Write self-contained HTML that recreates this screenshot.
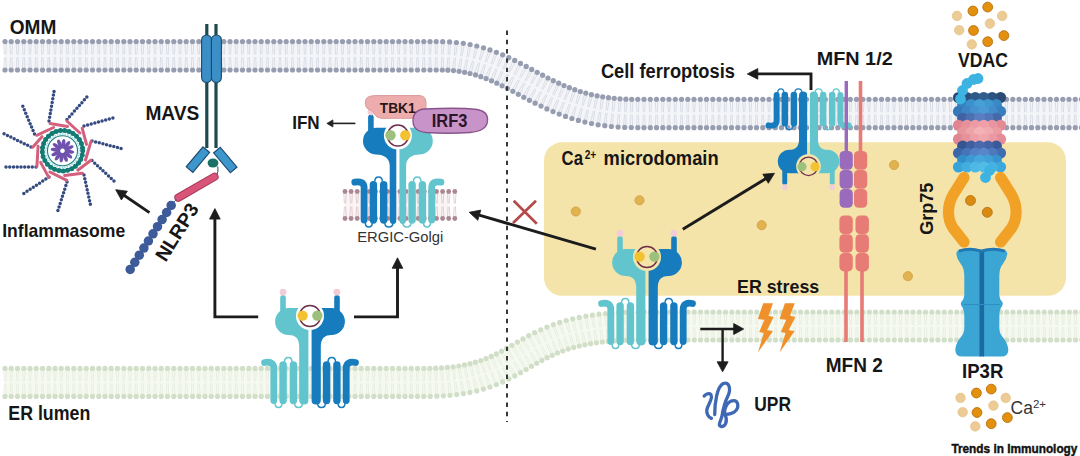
<!DOCTYPE html><html><head><meta charset="utf-8"><style>html,body{margin:0;padding:0;background:#fff;width:1080px;height:456px;overflow:hidden}svg text{font-family:"Liberation Sans",sans-serif}</style></head><body>
<svg width="1080" height="456" viewBox="0 0 1080 456" style="display:block">
<rect width="1080" height="456" fill="#ffffff"/>
<rect x="544" y="142.3" width="522" height="153.5" rx="18" fill="#f5e4aa"/>
<path d="M5.0,55.8 L26.8,55.8 L48.5,55.8 L70.2,55.8 L92.0,55.8 L113.7,55.8 L135.5,55.8 L157.2,55.8 L179.0,55.8 L200.7,55.8 L222.5,55.8 L244.2,55.8 L266.0,55.8 L287.8,55.8 L309.5,55.8 L331.2,55.8 L353.0,55.8 L374.7,55.8 L396.5,55.8 L418.2,55.8 L440.0,55.8 L441.2,55.8 L442.3,55.8 L443.5,55.8 L444.6,55.9 L445.7,55.9 L446.9,56.0 L448.0,56.0 L449.1,56.1 L450.2,56.1 L451.3,56.2 L452.4,56.3 L453.4,56.4 L454.5,56.5 L455.6,56.6 L456.6,56.7 L457.7,56.8 L458.7,57.0 L459.7,57.1 L460.8,57.3 L461.8,57.4 L462.8,57.6 L463.8,57.7 L464.8,57.9 L465.8,58.1 L466.8,58.3 L467.8,58.5 L468.7,58.7 L469.7,58.9 L470.7,59.1 L471.6,59.3 L472.6,59.5 L473.5,59.8 L474.5,60.0 L475.4,60.2 L476.3,60.5 L477.2,60.7 L478.2,61.0 L479.1,61.3 L480.0,61.5 L480.9,61.8 L481.8,62.1 L482.7,62.4 L483.6,62.7 L484.4,63.0 L485.3,63.3 L486.2,63.6 L487.1,63.9 L487.9,64.2 L488.8,64.5 L489.7,64.8 L490.5,65.1 L491.4,65.5 L492.2,65.8 L493.1,66.2 L493.9,66.5 L494.8,66.8 L495.6,67.2 L496.4,67.5 L497.3,67.9 L498.1,68.3 L498.9,68.6 L499.8,69.0 L500.6,69.4 L501.4,69.8 L502.2,70.1 L503.0,70.5 L503.8,70.9 L504.7,71.3 L505.5,71.7 L506.3,72.1 L507.1,72.5 L507.9,72.9 L508.7,73.3 L509.5,73.7 L510.3,74.1 L511.1,74.5 L511.9,74.9 L512.7,75.3 L513.5,75.7 L514.3,76.1 L515.1,76.5 L515.9,77.0 L516.7,77.4 L517.5,77.8 L518.2,78.2 L519.0,78.6 L519.8,79.1 L520.6,79.5 L521.4,79.9 L522.2,80.3 L523.0,80.8 L523.8,81.2 L524.6,81.6 L525.4,82.1 L526.2,82.5 L527.0,82.9 L527.8,83.4 L528.6,83.8 L529.4,84.2 L530.2,84.7 L531.0,85.1 L531.8,85.5 L532.6,86.0 L533.4,86.4 L534.3,86.8 L535.1,87.3 L535.9,87.7 L536.7,88.1 L537.5,88.5 L538.3,89.0 L539.2,89.4 L540.0,89.8 L540.8,90.3 L541.7,90.7 L542.5,91.1 L543.3,91.5 L544.2,91.9 L545.0,92.4 L545.9,92.8 L546.7,93.2 L547.6,93.6 L548.4,94.0 L549.3,94.4 L550.2,94.8 L551.0,95.3 L551.9,95.7 L552.8,96.1 L553.7,96.5 L554.6,96.9 L555.5,97.3 L556.4,97.6 L557.3,98.0 L558.2,98.4 L559.1,98.8 L560.0,99.2 L560.9,99.6 L561.8,99.9 L562.8,100.3 L563.7,100.7 L564.7,101.0 L565.6,101.4 L566.6,101.8 L567.5,102.1 L568.5,102.5 L569.5,102.8 L570.4,103.2 L571.4,103.5 L572.4,103.8 L573.4,104.2 L574.4,104.5 L575.4,104.8 L576.4,105.1 L577.5,105.5 L578.5,105.8 L579.5,106.1 L580.6,106.4 L581.6,106.7 L582.7,106.9 L583.7,107.2 L584.8,107.5 L585.9,107.8 L587.0,108.1 L588.1,108.3 L589.2,108.6 L590.3,108.8 L591.4,109.1 L592.5,109.3 L593.7,109.6 L594.8,109.8 L596.0,110.0 L597.1,110.2 L598.3,110.4 L599.5,110.6 L600.7,110.8 L601.9,111.0 L603.1,111.2 L604.3,111.4 L605.5,111.6 L606.8,111.7 L608.0,111.9 L609.3,112.0 L610.5,112.2 L611.8,112.3 L613.1,112.5 L614.4,112.6 L615.7,112.7 L617.0,112.8 L618.3,112.9 L619.7,113.0 L621.0,113.1 L622.4,113.2 L623.7,113.2 L625.1,113.3 L626.5,113.3 L627.9,113.4 L629.3,113.4 L630.7,113.5 L632.2,113.5 L633.6,113.5 L635.6,113.5 L647.0,113.5 L658.3,113.5 L669.7,113.5 L681.1,113.5 L692.5,113.5 L703.9,113.5 L715.3,113.5 L726.7,113.5 L738.1,113.5 L749.5,113.5 L760.9,113.5 L772.2,113.5 L783.6,113.5 L795.0,113.5 L806.4,113.5 L817.8,113.5 L829.2,113.5 L840.6,113.5 L852.0,113.5 L863.4,113.5 L874.7,113.5 L886.1,113.5 L897.5,113.5 L908.9,113.5 L920.3,113.5 L931.7,113.5 L943.1,113.5 L954.5,113.5 L965.9,113.5 L977.2,113.5 L988.6,113.5 L1000.0,113.5 L1011.4,113.5 L1022.8,113.5 L1034.2,113.5 L1045.6,113.5 L1057.0,113.5 L1068.4,113.5 L1079.7,113.5" stroke="#f4f5f8" stroke-width="28.3" fill="none"/>
<path d="M3.7 41.6L4.3 54.6M6.3 41.6L5.7 54.6M3.7 70.0L4.3 57.0M6.3 70.0L5.7 57.0M9.9 41.6L10.6 54.6M12.6 41.6L11.9 54.6M9.9 70.0L10.6 57.0M12.6 70.0L11.9 57.0M16.2 41.6L16.9 54.6M18.8 41.6L18.1 54.6M16.2 70.0L16.9 57.0M18.8 70.0L18.1 57.0M22.4 41.6L23.1 54.6M25.1 41.6L24.4 54.6M22.4 70.0L23.1 57.0M25.1 70.0L24.4 57.0M28.7 41.6L29.4 54.6M31.3 41.6L30.6 54.6M28.7 70.0L29.4 57.0M31.3 70.0L30.6 57.0M35.0 41.6L35.6 54.6M37.5 41.6L36.9 54.6M35.0 70.0L35.6 57.0M37.5 70.0L36.9 57.0M41.2 41.6L41.9 54.6M43.8 41.6L43.1 54.6M41.2 70.0L41.9 57.0M43.8 70.0L43.1 57.0M47.5 41.6L48.1 54.6M50.0 41.6L49.4 54.6M47.5 70.0L48.1 57.0M50.0 70.0L49.4 57.0M53.7 41.6L54.4 54.6M56.3 41.6L55.6 54.6M53.7 70.0L54.4 57.0M56.3 70.0L55.6 57.0M60.0 41.6L60.6 54.6M62.5 41.6L61.9 54.6M60.0 70.0L60.6 57.0M62.5 70.0L61.9 57.0M66.2 41.6L66.8 54.6M68.8 41.6L68.2 54.6M66.2 70.0L66.8 57.0M68.8 70.0L68.2 57.0M72.5 41.6L73.1 54.6M75.0 41.6L74.4 54.6M72.5 70.0L73.1 57.0M75.0 70.0L74.4 57.0M78.7 41.6L79.3 54.6M81.3 41.6L80.7 54.6M78.7 70.0L79.3 57.0M81.3 70.0L80.7 57.0M85.0 41.6L85.6 54.6M87.5 41.6L86.9 54.6M85.0 70.0L85.6 57.0M87.5 70.0L86.9 57.0M91.2 41.6L91.8 54.6M93.8 41.6L93.2 54.6M91.2 70.0L91.8 57.0M93.8 70.0L93.2 57.0M97.5 41.6L98.1 54.6M100.0 41.6L99.4 54.6M97.5 70.0L98.1 57.0M100.0 70.0L99.4 57.0M103.7 41.6L104.3 54.6M106.3 41.6L105.7 54.6M103.7 70.0L104.3 57.0M106.3 70.0L105.7 57.0M110.0 41.6L110.6 54.6M112.5 41.6L111.9 54.6M110.0 70.0L110.6 57.0M112.5 70.0L111.9 57.0M116.2 41.6L116.8 54.6M118.8 41.6L118.2 54.6M116.2 70.0L116.8 57.0M118.8 70.0L118.2 57.0M122.5 41.6L123.1 54.6M125.0 41.6L124.4 54.6M122.5 70.0L123.1 57.0M125.0 70.0L124.4 57.0M128.7 41.6L129.3 54.6M131.3 41.6L130.7 54.6M128.7 70.0L129.3 57.0M131.3 70.0L130.7 57.0M134.9 41.6L135.6 54.6M137.6 41.6L136.9 54.6M134.9 70.0L135.6 57.0M137.6 70.0L136.9 57.0M141.2 41.6L141.8 54.6M143.8 41.6L143.2 54.6M141.2 70.0L141.8 57.0M143.8 70.0L143.2 57.0M147.4 41.6L148.1 54.6M150.1 41.6L149.4 54.6M147.4 70.0L148.1 57.0M150.1 70.0L149.4 57.0M153.7 41.6L154.3 54.6M156.3 41.6L155.7 54.6M153.7 70.0L154.3 57.0M156.3 70.0L155.7 57.0M159.9 41.6L160.6 54.6M162.6 41.6L161.9 54.6M159.9 70.0L160.6 57.0M162.6 70.0L161.9 57.0M166.2 41.6L166.8 54.6M168.8 41.6L168.2 54.6M166.2 70.0L166.8 57.0M168.8 70.0L168.2 57.0M172.4 41.6L173.1 54.6M175.1 41.6L174.4 54.6M172.4 70.0L173.1 57.0M175.1 70.0L174.4 57.0M178.7 41.6L179.3 54.6M181.3 41.6L180.7 54.6M178.7 70.0L179.3 57.0M181.3 70.0L180.7 57.0M184.9 41.6L185.6 54.6M187.6 41.6L186.9 54.6M184.9 70.0L185.6 57.0M187.6 70.0L186.9 57.0M191.2 41.6L191.8 54.6M193.8 41.6L193.2 54.6M191.2 70.0L191.8 57.0M193.8 70.0L193.2 57.0M197.4 41.6L198.1 54.6M200.1 41.6L199.4 54.6M197.4 70.0L198.1 57.0M200.1 70.0L199.4 57.0M203.7 41.6L204.3 54.6M206.3 41.6L205.7 54.6M203.7 70.0L204.3 57.0M206.3 70.0L205.7 57.0M209.9 41.6L210.6 54.6M212.6 41.6L211.9 54.6M209.9 70.0L210.6 57.0M212.6 70.0L211.9 57.0M216.2 41.6L216.8 54.6M218.8 41.6L218.2 54.6M216.2 70.0L216.8 57.0M218.8 70.0L218.2 57.0M222.4 41.6L223.1 54.6M225.1 41.6L224.4 54.6M222.4 70.0L223.1 57.0M225.1 70.0L224.4 57.0M228.7 41.6L229.3 54.6M231.3 41.6L230.7 54.6M228.7 70.0L229.3 57.0M231.3 70.0L230.7 57.0M234.9 41.6L235.6 54.6M237.6 41.6L236.9 54.6M234.9 70.0L235.6 57.0M237.6 70.0L236.9 57.0M241.2 41.6L241.8 54.6M243.8 41.6L243.2 54.6M241.2 70.0L241.8 57.0M243.8 70.0L243.2 57.0M247.4 41.6L248.1 54.6M250.1 41.6L249.4 54.6M247.4 70.0L248.1 57.0M250.1 70.0L249.4 57.0M253.7 41.6L254.3 54.6M256.3 41.6L255.7 54.6M253.7 70.0L254.3 57.0M256.3 70.0L255.7 57.0M259.9 41.6L260.6 54.6M262.6 41.6L261.9 54.6M259.9 70.0L260.6 57.0M262.6 70.0L261.9 57.0M266.2 41.6L266.9 54.6M268.8 41.6L268.1 54.6M266.2 70.0L266.9 57.0M268.8 70.0L268.1 57.0M272.4 41.6L273.1 54.6M275.1 41.6L274.4 54.6M272.4 70.0L273.1 57.0M275.1 70.0L274.4 57.0M278.7 41.6L279.4 54.6M281.3 41.6L280.6 54.6M278.7 70.0L279.4 57.0M281.3 70.0L280.6 57.0M284.9 41.6L285.6 54.6M287.6 41.6L286.9 54.6M284.9 70.0L285.6 57.0M287.6 70.0L286.9 57.0M291.2 41.6L291.9 54.6M293.8 41.6L293.1 54.6M291.2 70.0L291.9 57.0M293.8 70.0L293.1 57.0M297.4 41.6L298.1 54.6M300.1 41.6L299.4 54.6M297.4 70.0L298.1 57.0M300.1 70.0L299.4 57.0M303.7 41.6L304.4 54.6M306.3 41.6L305.6 54.6M303.7 70.0L304.4 57.0M306.3 70.0L305.6 57.0M309.9 41.6L310.6 54.6M312.6 41.6L311.9 54.6M309.9 70.0L310.6 57.0M312.6 70.0L311.9 57.0M316.2 41.6L316.9 54.6M318.8 41.6L318.1 54.6M316.2 70.0L316.9 57.0M318.8 70.0L318.1 57.0M322.4 41.6L323.1 54.6M325.1 41.6L324.4 54.6M322.4 70.0L323.1 57.0M325.1 70.0L324.4 57.0M328.7 41.6L329.4 54.6M331.3 41.6L330.6 54.6M328.7 70.0L329.4 57.0M331.3 70.0L330.6 57.0M334.9 41.6L335.6 54.6M337.6 41.6L336.9 54.6M334.9 70.0L335.6 57.0M337.6 70.0L336.9 57.0M341.2 41.6L341.9 54.6M343.8 41.6L343.1 54.6M341.2 70.0L341.9 57.0M343.8 70.0L343.1 57.0M347.4 41.6L348.1 54.6M350.1 41.6L349.4 54.6M347.4 70.0L348.1 57.0M350.1 70.0L349.4 57.0M353.7 41.6L354.4 54.6M356.3 41.6L355.6 54.6M353.7 70.0L354.4 57.0M356.3 70.0L355.6 57.0M359.9 41.6L360.6 54.6M362.6 41.6L361.9 54.6M359.9 70.0L360.6 57.0M362.6 70.0L361.9 57.0M366.2 41.6L366.9 54.6M368.8 41.6L368.1 54.6M366.2 70.0L366.9 57.0M368.8 70.0L368.1 57.0M372.4 41.6L373.1 54.6M375.1 41.6L374.4 54.6M372.4 70.0L373.1 57.0M375.1 70.0L374.4 57.0M378.7 41.6L379.4 54.6M381.3 41.6L380.6 54.6M378.7 70.0L379.4 57.0M381.3 70.0L380.6 57.0M384.9 41.6L385.6 54.6M387.6 41.6L386.9 54.6M384.9 70.0L385.6 57.0M387.6 70.0L386.9 57.0M391.2 41.6L391.9 54.6M393.8 41.6L393.1 54.6M391.2 70.0L391.9 57.0M393.8 70.0L393.1 57.0M397.4 41.6L398.1 54.6M400.1 41.6L399.4 54.6M397.4 70.0L398.1 57.0M400.1 70.0L399.4 57.0M403.7 41.6L404.4 54.6M406.3 41.6L405.6 54.6M403.7 70.0L404.4 57.0M406.3 70.0L405.6 57.0M409.9 41.6L410.6 54.6M412.6 41.6L411.9 54.6M409.9 70.0L410.6 57.0M412.6 70.0L411.9 57.0M416.2 41.6L416.9 54.6M418.8 41.6L418.1 54.6M416.2 70.0L416.9 57.0M418.8 70.0L418.1 57.0M422.4 41.6L423.1 54.6M425.1 41.6L424.4 54.6M422.4 70.0L423.1 57.0M425.1 70.0L424.4 57.0M428.7 41.6L429.4 54.6M431.3 41.6L430.6 54.6M428.7 70.0L429.4 57.0M431.3 70.0L430.6 57.0M434.9 41.6L435.6 54.6M437.6 41.6L436.9 54.6M434.9 70.0L435.6 57.0M437.6 70.0L436.9 57.0M441.4 41.7L441.9 54.7M444.0 41.7L443.2 54.7M441.0 69.9L441.8 57.0M443.6 70.0L443.1 57.0M448.3 41.8L448.2 54.9M450.9 42.0L449.5 54.9M446.6 70.1L448.0 57.2M449.2 70.3L449.3 57.2M455.1 42.3L454.4 55.3M457.7 42.6L455.7 55.5M452.2 70.5L454.2 57.6M454.8 70.8L455.5 57.8M462.0 43.1L460.7 56.1M464.5 43.5L462.0 56.3M457.8 71.1L460.4 58.4M460.4 71.5L461.6 58.6M468.8 44.3L466.9 57.1M471.3 44.8L468.2 57.4M463.3 72.0L466.5 59.4M465.9 72.5L467.7 59.6M475.6 45.7L473.1 58.5M478.1 46.3L474.3 58.8M468.8 73.2L472.5 60.7M471.3 73.8L473.8 61.0M482.2 47.4L479.2 60.1M484.7 48.2L480.4 60.5M474.2 74.6L478.5 62.3M476.7 75.3L479.8 62.7M488.8 49.5L485.2 62.0M491.3 50.3L486.4 62.4M479.6 76.2L484.4 64.2M482.0 77.1L485.7 64.6M495.2 51.8L491.1 64.1M497.6 52.7L492.3 64.6M484.9 78.1L490.3 66.3M487.4 79.1L491.5 66.7M501.5 54.3L496.9 66.5M503.9 55.3L498.1 67.0M490.3 80.3L496.0 68.6M492.6 81.3L497.2 69.1M507.6 57.0L502.7 69.1M509.9 58.1L503.8 69.6M495.6 82.6L501.7 71.2M497.9 83.7L502.9 71.7M513.5 59.9L508.3 71.8M515.9 61.0L509.5 72.4M500.9 85.2L507.3 73.8M503.2 86.4L508.5 74.4M519.3 62.8L513.9 74.6M521.6 64.0L515.1 75.2M506.3 87.9L512.8 76.7M508.6 89.1L514.0 77.3M525.0 65.8L519.4 77.6M527.3 67.0L520.6 78.2M511.7 90.7L518.4 79.6M513.9 92.0L519.5 80.2M530.6 68.8L525.0 80.5M532.9 70.0L526.1 81.1M517.1 93.7L523.9 82.5M519.4 94.9L525.0 83.2M536.0 71.7L530.5 83.5M538.3 73.0L531.6 84.1M522.6 96.7L529.4 85.5M524.9 97.9L530.5 86.1M541.4 74.6L536.0 86.4M543.7 75.8L537.1 87.0M528.3 99.7L534.9 88.5M530.6 100.9L536.0 89.1M546.8 77.4L541.5 89.3M549.1 78.6L542.6 89.9M534.0 102.6L540.4 91.4M536.3 103.8L541.6 91.9M552.1 80.1L547.1 92.1M554.5 81.2L548.2 92.7M539.8 105.6L546.1 94.2M542.1 106.7L547.2 94.7M557.5 82.6L552.7 94.7M559.8 83.7L553.9 95.3M545.8 108.4L551.7 96.8M548.1 109.5L552.9 97.4M562.8 85.0L558.4 97.3M565.2 86.0L559.6 97.8M551.8 111.1L557.5 99.4M554.2 112.1L558.7 99.9M568.2 87.3L564.1 99.6M570.6 88.2L565.3 100.1M558.0 113.6L563.3 101.8M560.4 114.6L564.5 102.2M573.6 89.3L569.9 101.8M576.1 90.1L571.2 102.2M564.3 116.0L569.2 103.9M566.7 116.9L570.4 104.4M579.1 91.1L575.8 103.7M581.6 91.9L577.1 104.1M570.7 118.2L575.2 105.9M573.1 118.9L576.4 106.3M584.6 92.8L581.8 105.5M587.1 93.5L583.0 105.9M577.1 120.1L581.2 107.7M579.6 120.8L582.4 108.1M590.2 94.3L587.8 107.1M592.7 94.9L589.1 107.4M583.6 121.8L587.3 109.3M586.2 122.4L588.5 109.6M595.8 95.5L593.9 108.4M598.3 96.1L595.1 108.7M590.2 123.3L593.4 110.7M592.8 123.8L594.7 110.9M601.4 96.6L600.0 109.6M604.0 97.0L601.2 109.8M596.8 124.5L599.6 111.8M599.4 125.0L600.9 112.0M607.2 97.5L606.1 110.5M609.7 97.9L607.4 110.7M603.5 125.6L605.8 112.8M606.0 125.9L607.1 112.9M612.9 98.2L612.3 111.2M615.5 98.5L613.6 111.4M610.1 126.4L612.0 113.5M612.7 126.6L613.3 113.6M618.7 98.8L618.5 111.8M621.3 98.9L619.8 111.9M616.8 127.0L618.3 114.1M619.3 127.2L619.6 114.1M624.6 99.1L624.7 112.1M627.2 99.2L626.0 112.2M623.4 127.4L624.6 114.4M626.0 127.5L625.9 114.5M630.4 99.3L630.9 112.3M633.0 99.3L632.2 112.3M630.0 127.6L630.9 114.6M632.6 127.6L632.2 114.6M636.5 99.3L637.1 112.3M639.1 99.3L638.4 112.3M636.5 127.7L637.1 114.7M639.1 127.7L638.4 114.7M642.7 99.3L643.4 112.3M645.3 99.3L644.7 112.3M642.7 127.7L643.4 114.7M645.3 127.7L644.7 114.7M649.0 99.3L649.6 112.3M651.6 99.3L650.9 112.3M649.0 127.7L649.6 114.7M651.6 127.7L650.9 114.7M655.2 99.3L655.9 112.3M657.8 99.3L657.2 112.3M655.2 127.7L655.9 114.7M657.8 127.7L657.2 114.7M661.5 99.3L662.1 112.3M664.1 99.3L663.4 112.3M661.5 127.7L662.1 114.7M664.1 127.7L663.4 114.7M667.7 99.3L668.4 112.3M670.3 99.3L669.7 112.3M667.7 127.7L668.4 114.7M670.3 127.7L669.7 114.7M674.0 99.3L674.6 112.3M676.6 99.3L675.9 112.3M674.0 127.7L674.6 114.7M676.6 127.7L675.9 114.7M680.2 99.3L680.9 112.3M682.8 99.3L682.2 112.3M680.2 127.7L680.9 114.7M682.8 127.7L682.2 114.7M686.5 99.3L687.1 112.3M689.1 99.3L688.4 112.3M686.5 127.7L687.1 114.7M689.1 127.7L688.4 114.7M692.7 99.3L693.4 112.3M695.3 99.3L694.7 112.3M692.7 127.7L693.4 114.7M695.3 127.7L694.7 114.7M699.0 99.3L699.6 112.3M701.6 99.3L700.9 112.3M699.0 127.7L699.6 114.7M701.6 127.7L700.9 114.7M705.2 99.3L705.9 112.3M707.8 99.3L707.2 112.3M705.2 127.7L705.9 114.7M707.8 127.7L707.2 114.7M711.5 99.3L712.1 112.3M714.1 99.3L713.4 112.3M711.5 127.7L712.1 114.7M714.1 127.7L713.4 114.7M717.7 99.3L718.4 112.3M720.3 99.3L719.7 112.3M717.7 127.7L718.4 114.7M720.3 127.7L719.7 114.7M724.0 99.3L724.6 112.3M726.6 99.3L725.9 112.3M724.0 127.7L724.6 114.7M726.6 127.7L725.9 114.7M730.2 99.3L730.9 112.3M732.8 99.3L732.2 112.3M730.2 127.7L730.9 114.7M732.8 127.7L732.2 114.7M736.5 99.3L737.1 112.3M739.1 99.3L738.4 112.3M736.5 127.7L737.1 114.7M739.1 127.7L738.4 114.7M742.7 99.3L743.4 112.3M745.3 99.3L744.7 112.3M742.7 127.7L743.4 114.7M745.3 127.7L744.7 114.7M749.0 99.3L749.6 112.3M751.6 99.3L750.9 112.3M749.0 127.7L749.6 114.7M751.6 127.7L750.9 114.7M755.2 99.3L755.9 112.3M757.8 99.3L757.2 112.3M755.2 127.7L755.9 114.7M757.8 127.7L757.2 114.7M761.5 99.3L762.1 112.3M764.1 99.3L763.4 112.3M761.5 127.7L762.1 114.7M764.1 127.7L763.4 114.7M767.7 99.3L768.4 112.3M770.3 99.3L769.7 112.3M767.7 127.7L768.4 114.7M770.3 127.7L769.7 114.7M774.0 99.3L774.6 112.3M776.6 99.3L775.9 112.3M774.0 127.7L774.6 114.7M776.6 127.7L775.9 114.7M780.2 99.3L780.9 112.3M782.8 99.3L782.2 112.3M780.2 127.7L780.9 114.7M782.8 127.7L782.2 114.7M786.5 99.3L787.1 112.3M789.1 99.3L788.4 112.3M786.5 127.7L787.1 114.7M789.1 127.7L788.4 114.7M792.7 99.3L793.4 112.3M795.3 99.3L794.7 112.3M792.7 127.7L793.4 114.7M795.3 127.7L794.7 114.7M799.0 99.3L799.6 112.3M801.6 99.3L800.9 112.3M799.0 127.7L799.6 114.7M801.6 127.7L800.9 114.7M805.2 99.3L805.9 112.3M807.8 99.3L807.2 112.3M805.2 127.7L805.9 114.7M807.8 127.7L807.2 114.7M811.5 99.3L812.1 112.3M814.1 99.3L813.4 112.3M811.5 127.7L812.1 114.7M814.1 127.7L813.4 114.7M817.7 99.3L818.4 112.3M820.3 99.3L819.7 112.3M817.7 127.7L818.4 114.7M820.3 127.7L819.7 114.7M824.0 99.3L824.6 112.3M826.6 99.3L825.9 112.3M824.0 127.7L824.6 114.7M826.6 127.7L825.9 114.7M830.2 99.3L830.9 112.3M832.8 99.3L832.2 112.3M830.2 127.7L830.9 114.7M832.8 127.7L832.2 114.7M836.5 99.3L837.1 112.3M839.1 99.3L838.4 112.3M836.5 127.7L837.1 114.7M839.1 127.7L838.4 114.7M842.7 99.3L843.4 112.3M845.3 99.3L844.7 112.3M842.7 127.7L843.4 114.7M845.3 127.7L844.7 114.7M849.0 99.3L849.6 112.3M851.6 99.3L850.9 112.3M849.0 127.7L849.6 114.7M851.6 127.7L850.9 114.7M855.2 99.3L855.9 112.3M857.8 99.3L857.2 112.3M855.2 127.7L855.9 114.7M857.8 127.7L857.2 114.7M861.5 99.3L862.1 112.3M864.1 99.3L863.4 112.3M861.5 127.7L862.1 114.7M864.1 127.7L863.4 114.7M867.7 99.3L868.4 112.3M870.3 99.3L869.7 112.3M867.7 127.7L868.4 114.7M870.3 127.7L869.7 114.7M874.0 99.3L874.6 112.3M876.6 99.3L875.9 112.3M874.0 127.7L874.6 114.7M876.6 127.7L875.9 114.7M880.2 99.3L880.9 112.3M882.8 99.3L882.2 112.3M880.2 127.7L880.9 114.7M882.8 127.7L882.2 114.7M886.5 99.3L887.1 112.3M889.1 99.3L888.4 112.3M886.5 127.7L887.1 114.7M889.1 127.7L888.4 114.7M892.7 99.3L893.4 112.3M895.3 99.3L894.7 112.3M892.7 127.7L893.4 114.7M895.3 127.7L894.7 114.7M899.0 99.3L899.6 112.3M901.6 99.3L900.9 112.3M899.0 127.7L899.6 114.7M901.6 127.7L900.9 114.7M905.2 99.3L905.9 112.3M907.8 99.3L907.2 112.3M905.2 127.7L905.9 114.7M907.8 127.7L907.2 114.7M911.5 99.3L912.1 112.3M914.1 99.3L913.4 112.3M911.5 127.7L912.1 114.7M914.1 127.7L913.4 114.7M917.7 99.3L918.4 112.3M920.3 99.3L919.7 112.3M917.7 127.7L918.4 114.7M920.3 127.7L919.7 114.7M924.0 99.3L924.6 112.3M926.6 99.3L925.9 112.3M924.0 127.7L924.6 114.7M926.6 127.7L925.9 114.7M930.2 99.3L930.9 112.3M932.8 99.3L932.2 112.3M930.2 127.7L930.9 114.7M932.8 127.7L932.2 114.7M936.5 99.3L937.1 112.3M939.1 99.3L938.4 112.3M936.5 127.7L937.1 114.7M939.1 127.7L938.4 114.7M942.7 99.3L943.4 112.3M945.3 99.3L944.7 112.3M942.7 127.7L943.4 114.7M945.3 127.7L944.7 114.7M949.0 99.3L949.6 112.3M951.6 99.3L950.9 112.3M949.0 127.7L949.6 114.7M951.6 127.7L950.9 114.7M955.2 99.3L955.9 112.3M957.8 99.3L957.2 112.3M955.2 127.7L955.9 114.7M957.8 127.7L957.2 114.7M961.5 99.3L962.1 112.3M964.1 99.3L963.4 112.3M961.5 127.7L962.1 114.7M964.1 127.7L963.4 114.7M967.7 99.3L968.4 112.3M970.3 99.3L969.7 112.3M967.7 127.7L968.4 114.7M970.3 127.7L969.7 114.7M974.0 99.3L974.6 112.3M976.6 99.3L975.9 112.3M974.0 127.7L974.6 114.7M976.6 127.7L975.9 114.7M980.2 99.3L980.9 112.3M982.8 99.3L982.2 112.3M980.2 127.7L980.9 114.7M982.8 127.7L982.2 114.7M986.5 99.3L987.1 112.3M989.1 99.3L988.4 112.3M986.5 127.7L987.1 114.7M989.1 127.7L988.4 114.7M992.7 99.3L993.4 112.3M995.3 99.3L994.7 112.3M992.7 127.7L993.4 114.7M995.3 127.7L994.7 114.7M999.0 99.3L999.6 112.3M1001.6 99.3L1000.9 112.3M999.0 127.7L999.6 114.7M1001.6 127.7L1000.9 114.7M1005.2 99.3L1005.9 112.3M1007.8 99.3L1007.2 112.3M1005.2 127.7L1005.9 114.7M1007.8 127.7L1007.2 114.7M1011.5 99.3L1012.1 112.3M1014.1 99.3L1013.4 112.3M1011.5 127.7L1012.1 114.7M1014.1 127.7L1013.4 114.7M1017.7 99.3L1018.4 112.3M1020.3 99.3L1019.7 112.3M1017.7 127.7L1018.4 114.7M1020.3 127.7L1019.7 114.7M1024.0 99.3L1024.6 112.3M1026.6 99.3L1025.9 112.3M1024.0 127.7L1024.6 114.7M1026.6 127.7L1025.9 114.7M1030.2 99.3L1030.9 112.3M1032.8 99.3L1032.2 112.3M1030.2 127.7L1030.9 114.7M1032.8 127.7L1032.2 114.7M1036.5 99.3L1037.1 112.3M1039.1 99.3L1038.4 112.3M1036.5 127.7L1037.1 114.7M1039.1 127.7L1038.4 114.7M1042.7 99.3L1043.4 112.3M1045.3 99.3L1044.7 112.3M1042.7 127.7L1043.4 114.7M1045.3 127.7L1044.7 114.7M1049.0 99.3L1049.6 112.3M1051.6 99.3L1050.9 112.3M1049.0 127.7L1049.6 114.7M1051.6 127.7L1050.9 114.7M1055.2 99.3L1055.9 112.3M1057.8 99.3L1057.2 112.3M1055.2 127.7L1055.9 114.7M1057.8 127.7L1057.2 114.7M1061.5 99.3L1062.1 112.3M1064.1 99.3L1063.4 112.3M1061.5 127.7L1062.1 114.7M1064.1 127.7L1063.4 114.7M1067.7 99.3L1068.4 112.3M1070.3 99.3L1069.7 112.3M1067.7 127.7L1068.4 114.7M1070.3 127.7L1069.7 114.7M1074.0 99.3L1074.6 112.3M1076.6 99.3L1075.9 112.3M1074.0 127.7L1074.6 114.7M1076.6 127.7L1075.9 114.7M1080.2 99.3L1080.9 112.3M1082.8 99.3L1082.2 112.3M1080.2 127.7L1080.9 114.7M1082.8 127.7L1082.2 114.7M1086.5 99.3L1087.1 112.3M1089.1 99.3L1088.4 112.3M1086.5 127.7L1087.1 114.7M1089.1 127.7L1088.4 114.7" stroke="#cfd3dc" stroke-width="0.7" fill="none"/>
<g fill="#979db0"><circle cx="5.0" cy="41.6" r="2.6"/><circle cx="5.0" cy="70.0" r="2.6"/><circle cx="11.2" cy="41.6" r="2.6"/><circle cx="11.2" cy="70.0" r="2.6"/><circle cx="17.5" cy="41.6" r="2.6"/><circle cx="17.5" cy="70.0" r="2.6"/><circle cx="23.8" cy="41.6" r="2.6"/><circle cx="23.8" cy="70.0" r="2.6"/><circle cx="30.0" cy="41.6" r="2.6"/><circle cx="30.0" cy="70.0" r="2.6"/><circle cx="36.2" cy="41.6" r="2.6"/><circle cx="36.2" cy="70.0" r="2.6"/><circle cx="42.5" cy="41.6" r="2.6"/><circle cx="42.5" cy="70.0" r="2.6"/><circle cx="48.8" cy="41.6" r="2.6"/><circle cx="48.8" cy="70.0" r="2.6"/><circle cx="55.0" cy="41.6" r="2.6"/><circle cx="55.0" cy="70.0" r="2.6"/><circle cx="61.2" cy="41.6" r="2.6"/><circle cx="61.2" cy="70.0" r="2.6"/><circle cx="67.5" cy="41.6" r="2.6"/><circle cx="67.5" cy="70.0" r="2.6"/><circle cx="73.8" cy="41.6" r="2.6"/><circle cx="73.8" cy="70.0" r="2.6"/><circle cx="80.0" cy="41.6" r="2.6"/><circle cx="80.0" cy="70.0" r="2.6"/><circle cx="86.2" cy="41.6" r="2.6"/><circle cx="86.2" cy="70.0" r="2.6"/><circle cx="92.5" cy="41.6" r="2.6"/><circle cx="92.5" cy="70.0" r="2.6"/><circle cx="98.8" cy="41.6" r="2.6"/><circle cx="98.8" cy="70.0" r="2.6"/><circle cx="105.0" cy="41.6" r="2.6"/><circle cx="105.0" cy="70.0" r="2.6"/><circle cx="111.2" cy="41.6" r="2.6"/><circle cx="111.2" cy="70.0" r="2.6"/><circle cx="117.5" cy="41.6" r="2.6"/><circle cx="117.5" cy="70.0" r="2.6"/><circle cx="123.8" cy="41.6" r="2.6"/><circle cx="123.8" cy="70.0" r="2.6"/><circle cx="130.0" cy="41.6" r="2.6"/><circle cx="130.0" cy="70.0" r="2.6"/><circle cx="136.2" cy="41.6" r="2.6"/><circle cx="136.2" cy="70.0" r="2.6"/><circle cx="142.5" cy="41.6" r="2.6"/><circle cx="142.5" cy="70.0" r="2.6"/><circle cx="148.8" cy="41.6" r="2.6"/><circle cx="148.8" cy="70.0" r="2.6"/><circle cx="155.0" cy="41.6" r="2.6"/><circle cx="155.0" cy="70.0" r="2.6"/><circle cx="161.2" cy="41.6" r="2.6"/><circle cx="161.2" cy="70.0" r="2.6"/><circle cx="167.5" cy="41.6" r="2.6"/><circle cx="167.5" cy="70.0" r="2.6"/><circle cx="173.8" cy="41.6" r="2.6"/><circle cx="173.8" cy="70.0" r="2.6"/><circle cx="180.0" cy="41.6" r="2.6"/><circle cx="180.0" cy="70.0" r="2.6"/><circle cx="186.2" cy="41.6" r="2.6"/><circle cx="186.2" cy="70.0" r="2.6"/><circle cx="192.5" cy="41.6" r="2.6"/><circle cx="192.5" cy="70.0" r="2.6"/><circle cx="198.8" cy="41.6" r="2.6"/><circle cx="198.8" cy="70.0" r="2.6"/><circle cx="205.0" cy="41.6" r="2.6"/><circle cx="205.0" cy="70.0" r="2.6"/><circle cx="211.2" cy="41.6" r="2.6"/><circle cx="211.2" cy="70.0" r="2.6"/><circle cx="217.5" cy="41.6" r="2.6"/><circle cx="217.5" cy="70.0" r="2.6"/><circle cx="223.8" cy="41.6" r="2.6"/><circle cx="223.8" cy="70.0" r="2.6"/><circle cx="230.0" cy="41.6" r="2.6"/><circle cx="230.0" cy="70.0" r="2.6"/><circle cx="236.2" cy="41.6" r="2.6"/><circle cx="236.2" cy="70.0" r="2.6"/><circle cx="242.5" cy="41.6" r="2.6"/><circle cx="242.5" cy="70.0" r="2.6"/><circle cx="248.8" cy="41.6" r="2.6"/><circle cx="248.8" cy="70.0" r="2.6"/><circle cx="255.0" cy="41.6" r="2.6"/><circle cx="255.0" cy="70.0" r="2.6"/><circle cx="261.2" cy="41.6" r="2.6"/><circle cx="261.2" cy="70.0" r="2.6"/><circle cx="267.5" cy="41.6" r="2.6"/><circle cx="267.5" cy="70.0" r="2.6"/><circle cx="273.8" cy="41.6" r="2.6"/><circle cx="273.8" cy="70.0" r="2.6"/><circle cx="280.0" cy="41.6" r="2.6"/><circle cx="280.0" cy="70.0" r="2.6"/><circle cx="286.2" cy="41.6" r="2.6"/><circle cx="286.2" cy="70.0" r="2.6"/><circle cx="292.5" cy="41.6" r="2.6"/><circle cx="292.5" cy="70.0" r="2.6"/><circle cx="298.8" cy="41.6" r="2.6"/><circle cx="298.8" cy="70.0" r="2.6"/><circle cx="305.0" cy="41.6" r="2.6"/><circle cx="305.0" cy="70.0" r="2.6"/><circle cx="311.2" cy="41.6" r="2.6"/><circle cx="311.2" cy="70.0" r="2.6"/><circle cx="317.5" cy="41.6" r="2.6"/><circle cx="317.5" cy="70.0" r="2.6"/><circle cx="323.8" cy="41.6" r="2.6"/><circle cx="323.8" cy="70.0" r="2.6"/><circle cx="330.0" cy="41.6" r="2.6"/><circle cx="330.0" cy="70.0" r="2.6"/><circle cx="336.2" cy="41.6" r="2.6"/><circle cx="336.2" cy="70.0" r="2.6"/><circle cx="342.5" cy="41.6" r="2.6"/><circle cx="342.5" cy="70.0" r="2.6"/><circle cx="348.8" cy="41.6" r="2.6"/><circle cx="348.8" cy="70.0" r="2.6"/><circle cx="355.0" cy="41.6" r="2.6"/><circle cx="355.0" cy="70.0" r="2.6"/><circle cx="361.2" cy="41.6" r="2.6"/><circle cx="361.2" cy="70.0" r="2.6"/><circle cx="367.5" cy="41.6" r="2.6"/><circle cx="367.5" cy="70.0" r="2.6"/><circle cx="373.8" cy="41.6" r="2.6"/><circle cx="373.8" cy="70.0" r="2.6"/><circle cx="380.0" cy="41.6" r="2.6"/><circle cx="380.0" cy="70.0" r="2.6"/><circle cx="386.2" cy="41.6" r="2.6"/><circle cx="386.2" cy="70.0" r="2.6"/><circle cx="392.5" cy="41.6" r="2.6"/><circle cx="392.5" cy="70.0" r="2.6"/><circle cx="398.8" cy="41.6" r="2.6"/><circle cx="398.8" cy="70.0" r="2.6"/><circle cx="405.0" cy="41.6" r="2.6"/><circle cx="405.0" cy="70.0" r="2.6"/><circle cx="411.2" cy="41.6" r="2.6"/><circle cx="411.2" cy="70.0" r="2.6"/><circle cx="417.5" cy="41.6" r="2.6"/><circle cx="417.5" cy="70.0" r="2.6"/><circle cx="423.8" cy="41.6" r="2.6"/><circle cx="423.8" cy="70.0" r="2.6"/><circle cx="430.0" cy="41.6" r="2.6"/><circle cx="430.0" cy="70.0" r="2.6"/><circle cx="436.2" cy="41.6" r="2.6"/><circle cx="436.2" cy="70.0" r="2.6"/><circle cx="442.7" cy="41.7" r="2.6"/><circle cx="442.3" cy="70.0" r="2.6"/><circle cx="449.6" cy="41.9" r="2.6"/><circle cx="447.9" cy="70.2" r="2.6"/><circle cx="456.4" cy="42.5" r="2.6"/><circle cx="453.5" cy="70.6" r="2.6"/><circle cx="463.3" cy="43.3" r="2.6"/><circle cx="459.1" cy="71.3" r="2.6"/><circle cx="470.1" cy="44.5" r="2.6"/><circle cx="464.6" cy="72.3" r="2.6"/><circle cx="476.8" cy="46.0" r="2.6"/><circle cx="470.0" cy="73.5" r="2.6"/><circle cx="483.5" cy="47.8" r="2.6"/><circle cx="475.5" cy="74.9" r="2.6"/><circle cx="490.0" cy="49.9" r="2.6"/><circle cx="480.8" cy="76.7" r="2.6"/><circle cx="496.4" cy="52.3" r="2.6"/><circle cx="486.1" cy="78.6" r="2.6"/><circle cx="502.7" cy="54.8" r="2.6"/><circle cx="491.5" cy="80.8" r="2.6"/><circle cx="508.8" cy="57.6" r="2.6"/><circle cx="496.8" cy="83.2" r="2.6"/><circle cx="514.7" cy="60.4" r="2.6"/><circle cx="502.1" cy="85.8" r="2.6"/><circle cx="520.5" cy="63.4" r="2.6"/><circle cx="507.4" cy="88.5" r="2.6"/><circle cx="526.2" cy="66.4" r="2.6"/><circle cx="512.8" cy="91.3" r="2.6"/><circle cx="531.7" cy="69.4" r="2.6"/><circle cx="518.3" cy="94.3" r="2.6"/><circle cx="537.2" cy="72.3" r="2.6"/><circle cx="523.8" cy="97.3" r="2.6"/><circle cx="542.6" cy="75.2" r="2.6"/><circle cx="529.4" cy="100.3" r="2.6"/><circle cx="548.0" cy="78.0" r="2.6"/><circle cx="535.1" cy="103.2" r="2.6"/><circle cx="553.3" cy="80.7" r="2.6"/><circle cx="541.0" cy="106.1" r="2.6"/><circle cx="558.7" cy="83.2" r="2.6"/><circle cx="546.9" cy="108.9" r="2.6"/><circle cx="564.0" cy="85.5" r="2.6"/><circle cx="553.0" cy="111.6" r="2.6"/><circle cx="569.4" cy="87.7" r="2.6"/><circle cx="559.2" cy="114.1" r="2.6"/><circle cx="574.8" cy="89.7" r="2.6"/><circle cx="565.5" cy="116.4" r="2.6"/><circle cx="580.3" cy="91.5" r="2.6"/><circle cx="571.9" cy="118.5" r="2.6"/><circle cx="585.8" cy="93.1" r="2.6"/><circle cx="578.4" cy="120.4" r="2.6"/><circle cx="591.4" cy="94.6" r="2.6"/><circle cx="584.9" cy="122.1" r="2.6"/><circle cx="597.1" cy="95.8" r="2.6"/><circle cx="591.5" cy="123.5" r="2.6"/><circle cx="602.7" cy="96.8" r="2.6"/><circle cx="598.1" cy="124.8" r="2.6"/><circle cx="608.5" cy="97.7" r="2.6"/><circle cx="604.8" cy="125.7" r="2.6"/><circle cx="614.2" cy="98.3" r="2.6"/><circle cx="611.4" cy="126.5" r="2.6"/><circle cx="620.0" cy="98.8" r="2.6"/><circle cx="618.1" cy="127.1" r="2.6"/><circle cx="625.9" cy="99.2" r="2.6"/><circle cx="624.7" cy="127.4" r="2.6"/><circle cx="631.7" cy="99.3" r="2.6"/><circle cx="631.3" cy="127.6" r="2.6"/><circle cx="637.8" cy="99.3" r="2.6"/><circle cx="637.8" cy="127.7" r="2.6"/><circle cx="644.0" cy="99.3" r="2.6"/><circle cx="644.0" cy="127.7" r="2.6"/><circle cx="650.3" cy="99.3" r="2.6"/><circle cx="650.3" cy="127.7" r="2.6"/><circle cx="656.5" cy="99.3" r="2.6"/><circle cx="656.5" cy="127.7" r="2.6"/><circle cx="662.8" cy="99.3" r="2.6"/><circle cx="662.8" cy="127.7" r="2.6"/><circle cx="669.0" cy="99.3" r="2.6"/><circle cx="669.0" cy="127.7" r="2.6"/><circle cx="675.3" cy="99.3" r="2.6"/><circle cx="675.3" cy="127.7" r="2.6"/><circle cx="681.5" cy="99.3" r="2.6"/><circle cx="681.5" cy="127.7" r="2.6"/><circle cx="687.8" cy="99.3" r="2.6"/><circle cx="687.8" cy="127.7" r="2.6"/><circle cx="694.0" cy="99.3" r="2.6"/><circle cx="694.0" cy="127.7" r="2.6"/><circle cx="700.3" cy="99.3" r="2.6"/><circle cx="700.3" cy="127.7" r="2.6"/><circle cx="706.5" cy="99.3" r="2.6"/><circle cx="706.5" cy="127.7" r="2.6"/><circle cx="712.8" cy="99.3" r="2.6"/><circle cx="712.8" cy="127.7" r="2.6"/><circle cx="719.0" cy="99.3" r="2.6"/><circle cx="719.0" cy="127.7" r="2.6"/><circle cx="725.3" cy="99.3" r="2.6"/><circle cx="725.3" cy="127.7" r="2.6"/><circle cx="731.5" cy="99.3" r="2.6"/><circle cx="731.5" cy="127.7" r="2.6"/><circle cx="737.8" cy="99.3" r="2.6"/><circle cx="737.8" cy="127.7" r="2.6"/><circle cx="744.0" cy="99.3" r="2.6"/><circle cx="744.0" cy="127.7" r="2.6"/><circle cx="750.3" cy="99.3" r="2.6"/><circle cx="750.3" cy="127.7" r="2.6"/><circle cx="756.5" cy="99.3" r="2.6"/><circle cx="756.5" cy="127.7" r="2.6"/><circle cx="762.8" cy="99.3" r="2.6"/><circle cx="762.8" cy="127.7" r="2.6"/><circle cx="769.0" cy="99.3" r="2.6"/><circle cx="769.0" cy="127.7" r="2.6"/><circle cx="775.3" cy="99.3" r="2.6"/><circle cx="775.3" cy="127.7" r="2.6"/><circle cx="781.5" cy="99.3" r="2.6"/><circle cx="781.5" cy="127.7" r="2.6"/><circle cx="787.8" cy="99.3" r="2.6"/><circle cx="787.8" cy="127.7" r="2.6"/><circle cx="794.0" cy="99.3" r="2.6"/><circle cx="794.0" cy="127.7" r="2.6"/><circle cx="800.3" cy="99.3" r="2.6"/><circle cx="800.3" cy="127.7" r="2.6"/><circle cx="806.5" cy="99.3" r="2.6"/><circle cx="806.5" cy="127.7" r="2.6"/><circle cx="812.8" cy="99.3" r="2.6"/><circle cx="812.8" cy="127.7" r="2.6"/><circle cx="819.0" cy="99.3" r="2.6"/><circle cx="819.0" cy="127.7" r="2.6"/><circle cx="825.3" cy="99.3" r="2.6"/><circle cx="825.3" cy="127.7" r="2.6"/><circle cx="831.5" cy="99.3" r="2.6"/><circle cx="831.5" cy="127.7" r="2.6"/><circle cx="837.8" cy="99.3" r="2.6"/><circle cx="837.8" cy="127.7" r="2.6"/><circle cx="844.0" cy="99.3" r="2.6"/><circle cx="844.0" cy="127.7" r="2.6"/><circle cx="850.3" cy="99.3" r="2.6"/><circle cx="850.3" cy="127.7" r="2.6"/><circle cx="856.5" cy="99.3" r="2.6"/><circle cx="856.5" cy="127.7" r="2.6"/><circle cx="862.8" cy="99.3" r="2.6"/><circle cx="862.8" cy="127.7" r="2.6"/><circle cx="869.0" cy="99.3" r="2.6"/><circle cx="869.0" cy="127.7" r="2.6"/><circle cx="875.3" cy="99.3" r="2.6"/><circle cx="875.3" cy="127.7" r="2.6"/><circle cx="881.5" cy="99.3" r="2.6"/><circle cx="881.5" cy="127.7" r="2.6"/><circle cx="887.8" cy="99.3" r="2.6"/><circle cx="887.8" cy="127.7" r="2.6"/><circle cx="894.0" cy="99.3" r="2.6"/><circle cx="894.0" cy="127.7" r="2.6"/><circle cx="900.3" cy="99.3" r="2.6"/><circle cx="900.3" cy="127.7" r="2.6"/><circle cx="906.5" cy="99.3" r="2.6"/><circle cx="906.5" cy="127.7" r="2.6"/><circle cx="912.8" cy="99.3" r="2.6"/><circle cx="912.8" cy="127.7" r="2.6"/><circle cx="919.0" cy="99.3" r="2.6"/><circle cx="919.0" cy="127.7" r="2.6"/><circle cx="925.3" cy="99.3" r="2.6"/><circle cx="925.3" cy="127.7" r="2.6"/><circle cx="931.5" cy="99.3" r="2.6"/><circle cx="931.5" cy="127.7" r="2.6"/><circle cx="937.8" cy="99.3" r="2.6"/><circle cx="937.8" cy="127.7" r="2.6"/><circle cx="944.0" cy="99.3" r="2.6"/><circle cx="944.0" cy="127.7" r="2.6"/><circle cx="950.3" cy="99.3" r="2.6"/><circle cx="950.3" cy="127.7" r="2.6"/><circle cx="956.5" cy="99.3" r="2.6"/><circle cx="956.5" cy="127.7" r="2.6"/><circle cx="962.8" cy="99.3" r="2.6"/><circle cx="962.8" cy="127.7" r="2.6"/><circle cx="969.0" cy="99.3" r="2.6"/><circle cx="969.0" cy="127.7" r="2.6"/><circle cx="975.3" cy="99.3" r="2.6"/><circle cx="975.3" cy="127.7" r="2.6"/><circle cx="981.5" cy="99.3" r="2.6"/><circle cx="981.5" cy="127.7" r="2.6"/><circle cx="987.8" cy="99.3" r="2.6"/><circle cx="987.8" cy="127.7" r="2.6"/><circle cx="994.0" cy="99.3" r="2.6"/><circle cx="994.0" cy="127.7" r="2.6"/><circle cx="1000.3" cy="99.3" r="2.6"/><circle cx="1000.3" cy="127.7" r="2.6"/><circle cx="1006.5" cy="99.3" r="2.6"/><circle cx="1006.5" cy="127.7" r="2.6"/><circle cx="1012.8" cy="99.3" r="2.6"/><circle cx="1012.8" cy="127.7" r="2.6"/><circle cx="1019.0" cy="99.3" r="2.6"/><circle cx="1019.0" cy="127.7" r="2.6"/><circle cx="1025.3" cy="99.3" r="2.6"/><circle cx="1025.3" cy="127.7" r="2.6"/><circle cx="1031.5" cy="99.3" r="2.6"/><circle cx="1031.5" cy="127.7" r="2.6"/><circle cx="1037.8" cy="99.3" r="2.6"/><circle cx="1037.8" cy="127.7" r="2.6"/><circle cx="1044.0" cy="99.3" r="2.6"/><circle cx="1044.0" cy="127.7" r="2.6"/><circle cx="1050.3" cy="99.3" r="2.6"/><circle cx="1050.3" cy="127.7" r="2.6"/><circle cx="1056.5" cy="99.3" r="2.6"/><circle cx="1056.5" cy="127.7" r="2.6"/><circle cx="1062.8" cy="99.3" r="2.6"/><circle cx="1062.8" cy="127.7" r="2.6"/><circle cx="1069.0" cy="99.3" r="2.6"/><circle cx="1069.0" cy="127.7" r="2.6"/><circle cx="1075.3" cy="99.3" r="2.6"/><circle cx="1075.3" cy="127.7" r="2.6"/><circle cx="1081.5" cy="99.3" r="2.6"/><circle cx="1081.5" cy="127.7" r="2.6"/><circle cx="1087.8" cy="99.3" r="2.6"/><circle cx="1087.8" cy="127.7" r="2.6"/></g>
<path d="M5.0,382.4 L26.0,382.4 L47.0,382.4 L68.0,382.4 L89.0,382.4 L110.0,382.4 L131.0,382.4 L152.0,382.4 L173.0,382.4 L194.0,382.4 L215.0,382.4 L236.0,382.4 L257.0,382.4 L278.0,382.4 L299.0,382.4 L320.0,382.4 L341.0,382.4 L362.0,382.4 L383.0,382.4 L404.0,382.4 L425.0,382.4 L426.6,382.4 L428.2,382.4 L429.8,382.4 L431.3,382.3 L432.8,382.3 L434.3,382.3 L435.8,382.2 L437.3,382.1 L438.8,382.1 L440.2,382.0 L441.6,381.9 L443.0,381.8 L444.4,381.7 L445.8,381.6 L447.1,381.5 L448.5,381.4 L449.8,381.2 L451.1,381.1 L452.4,381.0 L453.7,380.8 L454.9,380.7 L456.2,380.5 L457.4,380.3 L458.6,380.2 L459.8,380.0 L461.0,379.8 L462.2,379.6 L463.3,379.4 L464.5,379.2 L465.6,379.0 L466.7,378.8 L467.8,378.5 L468.9,378.3 L470.0,378.1 L471.1,377.8 L472.2,377.6 L473.2,377.3 L474.2,377.1 L475.3,376.8 L476.3,376.5 L477.3,376.3 L478.3,376.0 L479.2,375.7 L480.2,375.4 L481.2,375.1 L482.1,374.8 L483.1,374.5 L484.0,374.2 L484.9,373.9 L485.8,373.6 L486.7,373.3 L487.6,372.9 L488.5,372.6 L489.4,372.3 L490.2,371.9 L491.1,371.6 L492.0,371.3 L492.8,370.9 L493.6,370.6 L494.5,370.2 L495.3,369.9 L496.1,369.5 L496.9,369.1 L497.7,368.8 L498.5,368.4 L499.3,368.0 L500.1,367.6 L500.9,367.3 L501.7,366.9 L502.5,366.5 L503.2,366.1 L504.0,365.7 L504.8,365.3 L505.5,364.9 L506.3,364.5 L507.0,364.1 L507.8,363.7 L508.5,363.3 L509.2,362.9 L510.0,362.5 L510.7,362.1 L511.4,361.7 L512.2,361.3 L512.9,360.9 L513.6,360.5 L514.4,360.1 L515.1,359.7 L515.8,359.2 L516.5,358.8 L517.2,358.4 L518.0,358.0 L518.7,357.6 L519.4,357.1 L520.1,356.7 L520.8,356.3 L521.6,355.9 L522.3,355.5 L523.0,355.0 L523.7,354.6 L524.5,354.2 L525.2,353.8 L525.9,353.3 L526.6,352.9 L527.4,352.5 L528.1,352.1 L528.8,351.7 L529.6,351.2 L530.3,350.8 L531.1,350.4 L531.8,350.0 L532.6,349.6 L533.3,349.1 L534.1,348.7 L534.9,348.3 L535.6,347.9 L536.4,347.5 L537.2,347.1 L538.0,346.7 L538.8,346.2 L539.6,345.8 L540.4,345.4 L541.2,345.0 L542.0,344.6 L542.8,344.2 L543.7,343.8 L544.5,343.4 L545.3,343.0 L546.2,342.7 L547.0,342.3 L547.9,341.9 L548.8,341.5 L549.7,341.1 L550.5,340.7 L551.4,340.4 L552.4,340.0 L553.3,339.6 L554.2,339.3 L555.1,338.9 L556.1,338.5 L557.0,338.2 L558.0,337.8 L559.0,337.5 L559.9,337.1 L560.9,336.8 L561.9,336.4 L563.0,336.1 L564.0,335.8 L565.0,335.4 L566.1,335.1 L567.1,334.8 L568.2,334.5 L569.3,334.2 L570.4,333.9 L571.5,333.6 L572.6,333.3 L573.8,333.0 L574.9,332.7 L576.1,332.4 L577.3,332.1 L578.5,331.9 L579.7,331.6 L580.9,331.3 L582.1,331.1 L583.4,330.8 L584.7,330.6 L585.9,330.3 L587.2,330.1 L588.5,329.9 L589.9,329.6 L591.2,329.4 L592.6,329.2 L594.0,329.0 L595.4,328.8 L596.8,328.6 L598.2,328.4 L599.6,328.2 L601.1,328.1 L602.6,327.9 L604.1,327.7 L605.6,327.6 L607.1,327.4 L608.7,327.3 L610.3,327.1 L611.9,327.0 L613.5,326.9 L615.1,326.8 L616.8,326.7 L618.4,326.6 L620.1,326.5 L621.8,326.4 L623.6,326.3 L625.3,326.3 L627.1,326.2 L628.9,326.1 L630.7,326.1 L632.5,326.1 L634.4,326.0 L636.3,326.0 L638.2,326.0 L640.6,326.0 L651.8,326.0 L663.1,326.0 L674.4,326.0 L685.6,326.0 L696.9,326.0 L708.1,326.0 L719.4,326.0 L730.7,326.0 L741.9,326.0 L753.2,326.0 L764.5,326.0 L775.7,326.0 L787.0,326.0 L798.3,326.0 L809.5,326.0 L820.8,326.0 L832.1,326.0 L843.3,326.0 L854.6,326.0 L865.8,326.0 L877.1,326.0 L888.4,326.0 L899.6,326.0 L910.9,326.0 L922.2,326.0 L933.4,326.0 L944.7,326.0 L956.0,326.0 L967.2,326.0 L978.5,326.0 L989.7,326.0 L1001.0,326.0 L1012.3,326.0 L1023.5,326.0 L1034.8,326.0 L1046.1,326.0 L1057.3,326.0 L1068.6,326.0 L1079.9,326.0" stroke="#f5f9ef" stroke-width="28.0" fill="none"/>
<path d="M3.7 368.4L4.3 381.4M6.3 368.4L5.7 381.4M3.7 396.4L4.3 383.4M6.3 396.4L5.7 383.4M9.9 368.4L10.6 381.4M12.6 368.4L11.9 381.4M9.9 396.4L10.6 383.4M12.6 396.4L11.9 383.4M16.2 368.4L16.9 381.4M18.8 368.4L18.1 381.4M16.2 396.4L16.9 383.4M18.8 396.4L18.1 383.4M22.4 368.4L23.1 381.4M25.1 368.4L24.4 381.4M22.4 396.4L23.1 383.4M25.1 396.4L24.4 383.4M28.7 368.4L29.4 381.4M31.3 368.4L30.6 381.4M28.7 396.4L29.4 383.4M31.3 396.4L30.6 383.4M35.0 368.4L35.6 381.4M37.5 368.4L36.9 381.4M35.0 396.4L35.6 383.4M37.5 396.4L36.9 383.4M41.2 368.4L41.9 381.4M43.8 368.4L43.1 381.4M41.2 396.4L41.9 383.4M43.8 396.4L43.1 383.4M47.5 368.4L48.1 381.4M50.0 368.4L49.4 381.4M47.5 396.4L48.1 383.4M50.0 396.4L49.4 383.4M53.7 368.4L54.4 381.4M56.3 368.4L55.6 381.4M53.7 396.4L54.4 383.4M56.3 396.4L55.6 383.4M60.0 368.4L60.6 381.4M62.5 368.4L61.9 381.4M60.0 396.4L60.6 383.4M62.5 396.4L61.9 383.4M66.2 368.4L66.8 381.4M68.8 368.4L68.2 381.4M66.2 396.4L66.8 383.4M68.8 396.4L68.2 383.4M72.5 368.4L73.1 381.4M75.0 368.4L74.4 381.4M72.5 396.4L73.1 383.4M75.0 396.4L74.4 383.4M78.7 368.4L79.3 381.4M81.3 368.4L80.7 381.4M78.7 396.4L79.3 383.4M81.3 396.4L80.7 383.4M85.0 368.4L85.6 381.4M87.5 368.4L86.9 381.4M85.0 396.4L85.6 383.4M87.5 396.4L86.9 383.4M91.2 368.4L91.8 381.4M93.8 368.4L93.2 381.4M91.2 396.4L91.8 383.4M93.8 396.4L93.2 383.4M97.5 368.4L98.1 381.4M100.0 368.4L99.4 381.4M97.5 396.4L98.1 383.4M100.0 396.4L99.4 383.4M103.7 368.4L104.3 381.4M106.3 368.4L105.7 381.4M103.7 396.4L104.3 383.4M106.3 396.4L105.7 383.4M110.0 368.4L110.6 381.4M112.5 368.4L111.9 381.4M110.0 396.4L110.6 383.4M112.5 396.4L111.9 383.4M116.2 368.4L116.8 381.4M118.8 368.4L118.2 381.4M116.2 396.4L116.8 383.4M118.8 396.4L118.2 383.4M122.5 368.4L123.1 381.4M125.0 368.4L124.4 381.4M122.5 396.4L123.1 383.4M125.0 396.4L124.4 383.4M128.7 368.4L129.3 381.4M131.3 368.4L130.7 381.4M128.7 396.4L129.3 383.4M131.3 396.4L130.7 383.4M134.9 368.4L135.6 381.4M137.6 368.4L136.9 381.4M134.9 396.4L135.6 383.4M137.6 396.4L136.9 383.4M141.2 368.4L141.8 381.4M143.8 368.4L143.2 381.4M141.2 396.4L141.8 383.4M143.8 396.4L143.2 383.4M147.4 368.4L148.1 381.4M150.1 368.4L149.4 381.4M147.4 396.4L148.1 383.4M150.1 396.4L149.4 383.4M153.7 368.4L154.3 381.4M156.3 368.4L155.7 381.4M153.7 396.4L154.3 383.4M156.3 396.4L155.7 383.4M159.9 368.4L160.6 381.4M162.6 368.4L161.9 381.4M159.9 396.4L160.6 383.4M162.6 396.4L161.9 383.4M166.2 368.4L166.8 381.4M168.8 368.4L168.2 381.4M166.2 396.4L166.8 383.4M168.8 396.4L168.2 383.4M172.4 368.4L173.1 381.4M175.1 368.4L174.4 381.4M172.4 396.4L173.1 383.4M175.1 396.4L174.4 383.4M178.7 368.4L179.3 381.4M181.3 368.4L180.7 381.4M178.7 396.4L179.3 383.4M181.3 396.4L180.7 383.4M184.9 368.4L185.6 381.4M187.6 368.4L186.9 381.4M184.9 396.4L185.6 383.4M187.6 396.4L186.9 383.4M191.2 368.4L191.8 381.4M193.8 368.4L193.2 381.4M191.2 396.4L191.8 383.4M193.8 396.4L193.2 383.4M197.4 368.4L198.1 381.4M200.1 368.4L199.4 381.4M197.4 396.4L198.1 383.4M200.1 396.4L199.4 383.4M203.7 368.4L204.3 381.4M206.3 368.4L205.7 381.4M203.7 396.4L204.3 383.4M206.3 396.4L205.7 383.4M209.9 368.4L210.6 381.4M212.6 368.4L211.9 381.4M209.9 396.4L210.6 383.4M212.6 396.4L211.9 383.4M216.2 368.4L216.8 381.4M218.8 368.4L218.2 381.4M216.2 396.4L216.8 383.4M218.8 396.4L218.2 383.4M222.4 368.4L223.1 381.4M225.1 368.4L224.4 381.4M222.4 396.4L223.1 383.4M225.1 396.4L224.4 383.4M228.7 368.4L229.3 381.4M231.3 368.4L230.7 381.4M228.7 396.4L229.3 383.4M231.3 396.4L230.7 383.4M234.9 368.4L235.6 381.4M237.6 368.4L236.9 381.4M234.9 396.4L235.6 383.4M237.6 396.4L236.9 383.4M241.2 368.4L241.8 381.4M243.8 368.4L243.2 381.4M241.2 396.4L241.8 383.4M243.8 396.4L243.2 383.4M247.4 368.4L248.1 381.4M250.1 368.4L249.4 381.4M247.4 396.4L248.1 383.4M250.1 396.4L249.4 383.4M253.7 368.4L254.3 381.4M256.3 368.4L255.7 381.4M253.7 396.4L254.3 383.4M256.3 396.4L255.7 383.4M259.9 368.4L260.6 381.4M262.6 368.4L261.9 381.4M259.9 396.4L260.6 383.4M262.6 396.4L261.9 383.4M266.2 368.4L266.9 381.4M268.8 368.4L268.1 381.4M266.2 396.4L266.9 383.4M268.8 396.4L268.1 383.4M272.4 368.4L273.1 381.4M275.1 368.4L274.4 381.4M272.4 396.4L273.1 383.4M275.1 396.4L274.4 383.4M278.7 368.4L279.4 381.4M281.3 368.4L280.6 381.4M278.7 396.4L279.4 383.4M281.3 396.4L280.6 383.4M284.9 368.4L285.6 381.4M287.6 368.4L286.9 381.4M284.9 396.4L285.6 383.4M287.6 396.4L286.9 383.4M291.2 368.4L291.9 381.4M293.8 368.4L293.1 381.4M291.2 396.4L291.9 383.4M293.8 396.4L293.1 383.4M297.4 368.4L298.1 381.4M300.1 368.4L299.4 381.4M297.4 396.4L298.1 383.4M300.1 396.4L299.4 383.4M303.7 368.4L304.4 381.4M306.3 368.4L305.6 381.4M303.7 396.4L304.4 383.4M306.3 396.4L305.6 383.4M309.9 368.4L310.6 381.4M312.6 368.4L311.9 381.4M309.9 396.4L310.6 383.4M312.6 396.4L311.9 383.4M316.2 368.4L316.9 381.4M318.8 368.4L318.1 381.4M316.2 396.4L316.9 383.4M318.8 396.4L318.1 383.4M322.4 368.4L323.1 381.4M325.1 368.4L324.4 381.4M322.4 396.4L323.1 383.4M325.1 396.4L324.4 383.4M328.7 368.4L329.4 381.4M331.3 368.4L330.6 381.4M328.7 396.4L329.4 383.4M331.3 396.4L330.6 383.4M334.9 368.4L335.6 381.4M337.6 368.4L336.9 381.4M334.9 396.4L335.6 383.4M337.6 396.4L336.9 383.4M341.2 368.4L341.9 381.4M343.8 368.4L343.1 381.4M341.2 396.4L341.9 383.4M343.8 396.4L343.1 383.4M347.4 368.4L348.1 381.4M350.1 368.4L349.4 381.4M347.4 396.4L348.1 383.4M350.1 396.4L349.4 383.4M353.7 368.4L354.4 381.4M356.3 368.4L355.6 381.4M353.7 396.4L354.4 383.4M356.3 396.4L355.6 383.4M359.9 368.4L360.6 381.4M362.6 368.4L361.9 381.4M359.9 396.4L360.6 383.4M362.6 396.4L361.9 383.4M366.2 368.4L366.9 381.4M368.8 368.4L368.1 381.4M366.2 396.4L366.9 383.4M368.8 396.4L368.1 383.4M372.4 368.4L373.1 381.4M375.1 368.4L374.4 381.4M372.4 396.4L373.1 383.4M375.1 396.4L374.4 383.4M378.7 368.4L379.4 381.4M381.3 368.4L380.6 381.4M378.7 396.4L379.4 383.4M381.3 396.4L380.6 383.4M384.9 368.4L385.6 381.4M387.6 368.4L386.9 381.4M384.9 396.4L385.6 383.4M387.6 396.4L386.9 383.4M391.2 368.4L391.9 381.4M393.8 368.4L393.1 381.4M391.2 396.4L391.9 383.4M393.8 396.4L393.1 383.4M397.4 368.4L398.1 381.4M400.1 368.4L399.4 381.4M397.4 396.4L398.1 383.4M400.1 396.4L399.4 383.4M403.7 368.4L404.4 381.4M406.3 368.4L405.6 381.4M403.7 396.4L404.4 383.4M406.3 396.4L405.6 383.4M409.9 368.4L410.6 381.4M412.6 368.4L411.9 381.4M409.9 396.4L410.6 383.4M412.6 396.4L411.9 383.4M416.2 368.4L416.9 381.4M418.8 368.4L418.1 381.4M416.2 396.4L416.9 383.4M418.8 396.4L418.1 383.4M422.4 368.4L423.1 381.4M425.1 368.4L424.4 381.4M422.4 396.4L423.1 383.4M425.1 396.4L424.4 383.4M428.5 368.4L429.3 381.4M431.1 368.3L430.6 381.3M428.9 396.4L429.4 383.4M431.5 396.3L430.7 383.3M434.4 368.2L435.6 381.2M437.0 368.1L436.9 381.2M435.5 396.2L435.6 383.2M438.1 396.1L436.9 383.2M440.3 368.0L441.8 380.9M442.9 367.8L443.1 380.8M442.1 395.9L441.9 382.9M444.7 395.7L443.2 382.8M446.1 367.5L448.0 380.4M448.7 367.3L449.3 380.3M448.7 395.4L448.2 382.4M451.3 395.2L449.5 382.3M451.9 366.9L454.2 379.8M454.5 366.6L455.4 379.6M455.4 394.7L454.4 381.7M458.0 394.4L455.7 381.6M457.6 366.2L460.3 378.9M460.1 365.7L461.6 378.7M462.1 393.8L460.6 380.9M464.6 393.4L461.9 380.7M463.2 365.2L466.4 377.8M465.8 364.7L467.7 377.5M468.8 392.6L466.8 379.8M471.3 392.1L468.1 379.5M468.7 364.0L472.5 376.5M471.3 363.4L473.8 376.2M475.5 391.2L473.0 378.4M478.0 390.6L474.2 378.1M474.2 362.6L478.5 374.9M476.7 361.9L479.7 374.5M482.1 389.4L479.1 376.8M484.6 388.7L480.3 376.4M479.5 360.9L484.4 373.0M482.0 360.1L485.6 372.6M488.7 387.4L485.1 374.9M491.1 386.6L486.3 374.5M484.8 359.0L490.2 370.9M487.2 358.1L491.4 370.4M495.2 385.1L491.0 372.7M497.6 384.1L492.2 372.3M490.0 356.9L496.0 368.5M492.4 355.8L497.1 367.9M501.5 382.4L496.8 370.3M503.9 381.3L498.0 369.8M495.2 354.5L501.6 365.8M497.5 353.3L502.7 365.3M507.7 379.5L502.5 367.6M510.0 378.4L503.6 367.0M500.3 351.9L507.1 363.0M502.6 350.6L508.2 362.4M513.7 376.5L508.0 364.7M515.9 375.2L509.2 364.1M505.5 349.0L512.5 360.0M507.8 347.7L513.7 359.3M519.4 373.3L513.5 361.7M521.7 372.0L514.7 361.1M510.8 345.9L517.9 356.8M513.1 344.6L519.1 356.2M525.0 370.1L519.0 358.6M527.2 368.8L520.1 357.9M516.2 342.8L523.3 353.7M518.5 341.5L524.5 353.0M530.3 367.0L524.3 355.4M532.6 365.7L525.5 354.8M521.8 339.6L528.8 350.6M524.1 338.3L529.9 349.9M535.6 363.9L529.7 352.3M537.8 362.6L530.9 351.7M527.5 336.4L534.2 347.5M529.8 335.1L535.4 346.9M540.8 361.0L535.2 349.3M543.1 359.8L536.3 348.7M533.4 333.3L539.8 344.6M535.8 332.1L541.0 344.0M545.9 358.3L540.7 346.4M548.2 357.2L541.9 345.8M539.5 330.3L545.5 341.9M541.9 329.2L546.7 341.3M551.1 355.8L546.3 343.7M553.5 354.7L547.5 343.2M545.7 327.6L551.2 339.4M548.1 326.6L552.4 338.9M556.3 353.5L552.0 341.2M558.7 352.5L553.2 340.7M552.1 325.1L557.1 337.1M554.5 324.2L558.3 336.6M561.6 351.4L557.8 339.0M564.0 350.5L559.0 338.5M558.5 322.8L563.0 335.0M561.0 322.0L564.3 334.6M567.0 349.5L563.7 336.9M569.5 348.7L564.9 336.5M565.0 320.9L569.1 333.2M567.5 320.2L570.3 332.9M572.5 347.8L569.6 335.1M575.0 347.1L570.9 334.8M571.5 319.1L575.1 331.6M574.0 318.5L576.4 331.3M578.0 346.3L575.6 333.6M580.5 345.7L576.9 333.2M578.0 317.6L581.3 330.2M580.6 317.1L582.5 330.0M583.6 345.0L581.7 332.2M586.2 344.5L582.9 331.9M584.6 316.3L587.4 329.0M587.1 315.9L588.7 328.8M589.4 343.9L587.8 331.0M591.9 343.5L589.1 330.8M591.1 315.3L593.6 328.0M593.7 314.9L594.9 327.8M595.1 343.0L593.9 330.0M597.7 342.6L595.2 329.8M597.7 314.4L599.9 327.2M600.3 314.1L601.1 327.0M601.0 342.2L600.1 329.2M603.6 341.9L601.4 329.0M604.2 313.6L606.1 326.5M606.8 313.4L607.4 326.4M606.9 341.5L606.3 328.5M609.5 341.3L607.6 328.4M610.7 313.1L612.3 326.0M613.3 312.9L613.6 325.9M612.8 341.0L612.5 328.0M615.4 340.8L613.8 327.9M617.2 312.6L618.6 325.6M619.8 312.5L619.9 325.5M618.8 340.6L618.7 327.6M621.4 340.4L620.0 327.5M623.7 312.3L624.9 325.3M626.3 312.2L626.2 325.2M624.7 340.3L624.9 327.3M627.3 340.2L626.2 327.2M630.2 312.1L631.1 325.1M632.8 312.1L632.4 325.1M630.8 340.1L631.2 327.1M633.4 340.1L632.5 327.1M636.7 312.0L637.4 325.0M639.3 312.0L638.7 325.0M636.8 340.0L637.4 327.0M639.4 340.0L638.7 327.0M643.0 312.0L643.6 325.0M645.6 312.0L644.9 325.0M643.0 340.0L643.6 327.0M645.6 340.0L644.9 327.0M649.2 312.0L649.9 325.0M651.8 312.0L651.2 325.0M649.2 340.0L649.9 327.0M651.8 340.0L651.2 327.0M655.5 312.0L656.1 325.0M658.1 312.0L657.4 325.0M655.5 340.0L656.1 327.0M658.1 340.0L657.4 327.0M661.7 312.0L662.4 325.0M664.3 312.0L663.7 325.0M661.7 340.0L662.4 327.0M664.3 340.0L663.7 327.0M668.0 312.0L668.6 325.0M670.6 312.0L669.9 325.0M668.0 340.0L668.6 327.0M670.6 340.0L669.9 327.0M674.2 312.0L674.9 325.0M676.8 312.0L676.2 325.0M674.2 340.0L674.9 327.0M676.8 340.0L676.2 327.0M680.5 312.0L681.1 325.0M683.1 312.0L682.4 325.0M680.5 340.0L681.1 327.0M683.1 340.0L682.4 327.0M686.7 312.0L687.4 325.0M689.3 312.0L688.7 325.0M686.7 340.0L687.4 327.0M689.3 340.0L688.7 327.0M693.0 312.0L693.6 325.0M695.6 312.0L694.9 325.0M693.0 340.0L693.6 327.0M695.6 340.0L694.9 327.0M699.2 312.0L699.9 325.0M701.8 312.0L701.2 325.0M699.2 340.0L699.9 327.0M701.8 340.0L701.2 327.0M705.5 312.0L706.1 325.0M708.1 312.0L707.4 325.0M705.5 340.0L706.1 327.0M708.1 340.0L707.4 327.0M711.7 312.0L712.4 325.0M714.3 312.0L713.7 325.0M711.7 340.0L712.4 327.0M714.3 340.0L713.7 327.0M718.0 312.0L718.6 325.0M720.6 312.0L719.9 325.0M718.0 340.0L718.6 327.0M720.6 340.0L719.9 327.0M724.2 312.0L724.9 325.0M726.8 312.0L726.2 325.0M724.2 340.0L724.9 327.0M726.8 340.0L726.2 327.0M730.5 312.0L731.1 325.0M733.1 312.0L732.4 325.0M730.5 340.0L731.1 327.0M733.1 340.0L732.4 327.0M736.7 312.0L737.4 325.0M739.3 312.0L738.7 325.0M736.7 340.0L737.4 327.0M739.3 340.0L738.7 327.0M743.0 312.0L743.6 325.0M745.6 312.0L744.9 325.0M743.0 340.0L743.6 327.0M745.6 340.0L744.9 327.0M749.2 312.0L749.9 325.0M751.8 312.0L751.2 325.0M749.2 340.0L749.9 327.0M751.8 340.0L751.2 327.0M755.5 312.0L756.1 325.0M758.1 312.0L757.4 325.0M755.5 340.0L756.1 327.0M758.1 340.0L757.4 327.0M761.7 312.0L762.4 325.0M764.3 312.0L763.7 325.0M761.7 340.0L762.4 327.0M764.3 340.0L763.7 327.0M768.0 312.0L768.6 325.0M770.6 312.0L769.9 325.0M768.0 340.0L768.6 327.0M770.6 340.0L769.9 327.0M774.2 312.0L774.9 325.0M776.8 312.0L776.2 325.0M774.2 340.0L774.9 327.0M776.8 340.0L776.2 327.0M780.5 312.0L781.1 325.0M783.1 312.0L782.4 325.0M780.5 340.0L781.1 327.0M783.1 340.0L782.4 327.0M786.7 312.0L787.4 325.0M789.3 312.0L788.7 325.0M786.7 340.0L787.4 327.0M789.3 340.0L788.7 327.0M793.0 312.0L793.6 325.0M795.6 312.0L794.9 325.0M793.0 340.0L793.6 327.0M795.6 340.0L794.9 327.0M799.2 312.0L799.9 325.0M801.8 312.0L801.2 325.0M799.2 340.0L799.9 327.0M801.8 340.0L801.2 327.0M805.5 312.0L806.1 325.0M808.1 312.0L807.4 325.0M805.5 340.0L806.1 327.0M808.1 340.0L807.4 327.0M811.7 312.0L812.4 325.0M814.3 312.0L813.7 325.0M811.7 340.0L812.4 327.0M814.3 340.0L813.7 327.0M818.0 312.0L818.6 325.0M820.6 312.0L819.9 325.0M818.0 340.0L818.6 327.0M820.6 340.0L819.9 327.0M824.2 312.0L824.9 325.0M826.8 312.0L826.2 325.0M824.2 340.0L824.9 327.0M826.8 340.0L826.2 327.0M830.5 312.0L831.1 325.0M833.1 312.0L832.4 325.0M830.5 340.0L831.1 327.0M833.1 340.0L832.4 327.0M836.7 312.0L837.4 325.0M839.3 312.0L838.7 325.0M836.7 340.0L837.4 327.0M839.3 340.0L838.7 327.0M843.0 312.0L843.6 325.0M845.6 312.0L844.9 325.0M843.0 340.0L843.6 327.0M845.6 340.0L844.9 327.0M849.2 312.0L849.9 325.0M851.8 312.0L851.2 325.0M849.2 340.0L849.9 327.0M851.8 340.0L851.2 327.0M855.5 312.0L856.1 325.0M858.1 312.0L857.4 325.0M855.5 340.0L856.1 327.0M858.1 340.0L857.4 327.0M861.7 312.0L862.4 325.0M864.3 312.0L863.7 325.0M861.7 340.0L862.4 327.0M864.3 340.0L863.7 327.0M868.0 312.0L868.6 325.0M870.6 312.0L869.9 325.0M868.0 340.0L868.6 327.0M870.6 340.0L869.9 327.0M874.2 312.0L874.9 325.0M876.8 312.0L876.2 325.0M874.2 340.0L874.9 327.0M876.8 340.0L876.2 327.0M880.5 312.0L881.1 325.0M883.1 312.0L882.4 325.0M880.5 340.0L881.1 327.0M883.1 340.0L882.4 327.0M886.7 312.0L887.4 325.0M889.3 312.0L888.7 325.0M886.7 340.0L887.4 327.0M889.3 340.0L888.7 327.0M893.0 312.0L893.6 325.0M895.6 312.0L894.9 325.0M893.0 340.0L893.6 327.0M895.6 340.0L894.9 327.0M899.2 312.0L899.9 325.0M901.8 312.0L901.2 325.0M899.2 340.0L899.9 327.0M901.8 340.0L901.2 327.0M905.5 312.0L906.1 325.0M908.1 312.0L907.4 325.0M905.5 340.0L906.1 327.0M908.1 340.0L907.4 327.0M911.7 312.0L912.4 325.0M914.3 312.0L913.7 325.0M911.7 340.0L912.4 327.0M914.3 340.0L913.7 327.0M918.0 312.0L918.6 325.0M920.6 312.0L919.9 325.0M918.0 340.0L918.6 327.0M920.6 340.0L919.9 327.0M924.2 312.0L924.9 325.0M926.8 312.0L926.2 325.0M924.2 340.0L924.9 327.0M926.8 340.0L926.2 327.0M930.5 312.0L931.1 325.0M933.1 312.0L932.4 325.0M930.5 340.0L931.1 327.0M933.1 340.0L932.4 327.0M936.7 312.0L937.4 325.0M939.3 312.0L938.7 325.0M936.7 340.0L937.4 327.0M939.3 340.0L938.7 327.0M943.0 312.0L943.6 325.0M945.6 312.0L944.9 325.0M943.0 340.0L943.6 327.0M945.6 340.0L944.9 327.0M949.2 312.0L949.9 325.0M951.8 312.0L951.2 325.0M949.2 340.0L949.9 327.0M951.8 340.0L951.2 327.0M955.5 312.0L956.1 325.0M958.1 312.0L957.4 325.0M955.5 340.0L956.1 327.0M958.1 340.0L957.4 327.0M961.7 312.0L962.4 325.0M964.3 312.0L963.7 325.0M961.7 340.0L962.4 327.0M964.3 340.0L963.7 327.0M968.0 312.0L968.6 325.0M970.6 312.0L969.9 325.0M968.0 340.0L968.6 327.0M970.6 340.0L969.9 327.0M974.2 312.0L974.9 325.0M976.8 312.0L976.2 325.0M974.2 340.0L974.9 327.0M976.8 340.0L976.2 327.0M980.5 312.0L981.1 325.0M983.1 312.0L982.4 325.0M980.5 340.0L981.1 327.0M983.1 340.0L982.4 327.0M986.7 312.0L987.4 325.0M989.3 312.0L988.7 325.0M986.7 340.0L987.4 327.0M989.3 340.0L988.7 327.0M993.0 312.0L993.6 325.0M995.6 312.0L994.9 325.0M993.0 340.0L993.6 327.0M995.6 340.0L994.9 327.0M999.2 312.0L999.9 325.0M1001.8 312.0L1001.2 325.0M999.2 340.0L999.9 327.0M1001.8 340.0L1001.2 327.0M1005.5 312.0L1006.1 325.0M1008.1 312.0L1007.4 325.0M1005.5 340.0L1006.1 327.0M1008.1 340.0L1007.4 327.0M1011.7 312.0L1012.4 325.0M1014.3 312.0L1013.7 325.0M1011.7 340.0L1012.4 327.0M1014.3 340.0L1013.7 327.0M1018.0 312.0L1018.6 325.0M1020.6 312.0L1019.9 325.0M1018.0 340.0L1018.6 327.0M1020.6 340.0L1019.9 327.0M1024.2 312.0L1024.9 325.0M1026.8 312.0L1026.2 325.0M1024.2 340.0L1024.9 327.0M1026.8 340.0L1026.2 327.0M1030.5 312.0L1031.1 325.0M1033.1 312.0L1032.4 325.0M1030.5 340.0L1031.1 327.0M1033.1 340.0L1032.4 327.0M1036.7 312.0L1037.4 325.0M1039.3 312.0L1038.7 325.0M1036.7 340.0L1037.4 327.0M1039.3 340.0L1038.7 327.0M1043.0 312.0L1043.6 325.0M1045.6 312.0L1044.9 325.0M1043.0 340.0L1043.6 327.0M1045.6 340.0L1044.9 327.0M1049.2 312.0L1049.9 325.0M1051.8 312.0L1051.2 325.0M1049.2 340.0L1049.9 327.0M1051.8 340.0L1051.2 327.0M1055.5 312.0L1056.1 325.0M1058.1 312.0L1057.4 325.0M1055.5 340.0L1056.1 327.0M1058.1 340.0L1057.4 327.0M1061.7 312.0L1062.4 325.0M1064.3 312.0L1063.7 325.0M1061.7 340.0L1062.4 327.0M1064.3 340.0L1063.7 327.0M1068.0 312.0L1068.6 325.0M1070.6 312.0L1069.9 325.0M1068.0 340.0L1068.6 327.0M1070.6 340.0L1069.9 327.0M1074.2 312.0L1074.9 325.0M1076.8 312.0L1076.2 325.0M1074.2 340.0L1074.9 327.0M1076.8 340.0L1076.2 327.0M1080.5 312.0L1081.1 325.0M1083.1 312.0L1082.4 325.0M1080.5 340.0L1081.1 327.0M1083.1 340.0L1082.4 327.0M1086.7 312.0L1087.4 325.0M1089.3 312.0L1088.7 325.0M1086.7 340.0L1087.4 327.0M1089.3 340.0L1088.7 327.0" stroke="#e2eadb" stroke-width="0.7" fill="none"/>
<g fill="#d2dfc8"><circle cx="5.0" cy="368.4" r="2.6"/><circle cx="5.0" cy="396.4" r="2.6"/><circle cx="11.2" cy="368.4" r="2.6"/><circle cx="11.2" cy="396.4" r="2.6"/><circle cx="17.5" cy="368.4" r="2.6"/><circle cx="17.5" cy="396.4" r="2.6"/><circle cx="23.8" cy="368.4" r="2.6"/><circle cx="23.8" cy="396.4" r="2.6"/><circle cx="30.0" cy="368.4" r="2.6"/><circle cx="30.0" cy="396.4" r="2.6"/><circle cx="36.2" cy="368.4" r="2.6"/><circle cx="36.2" cy="396.4" r="2.6"/><circle cx="42.5" cy="368.4" r="2.6"/><circle cx="42.5" cy="396.4" r="2.6"/><circle cx="48.8" cy="368.4" r="2.6"/><circle cx="48.8" cy="396.4" r="2.6"/><circle cx="55.0" cy="368.4" r="2.6"/><circle cx="55.0" cy="396.4" r="2.6"/><circle cx="61.2" cy="368.4" r="2.6"/><circle cx="61.2" cy="396.4" r="2.6"/><circle cx="67.5" cy="368.4" r="2.6"/><circle cx="67.5" cy="396.4" r="2.6"/><circle cx="73.8" cy="368.4" r="2.6"/><circle cx="73.8" cy="396.4" r="2.6"/><circle cx="80.0" cy="368.4" r="2.6"/><circle cx="80.0" cy="396.4" r="2.6"/><circle cx="86.2" cy="368.4" r="2.6"/><circle cx="86.2" cy="396.4" r="2.6"/><circle cx="92.5" cy="368.4" r="2.6"/><circle cx="92.5" cy="396.4" r="2.6"/><circle cx="98.8" cy="368.4" r="2.6"/><circle cx="98.8" cy="396.4" r="2.6"/><circle cx="105.0" cy="368.4" r="2.6"/><circle cx="105.0" cy="396.4" r="2.6"/><circle cx="111.2" cy="368.4" r="2.6"/><circle cx="111.2" cy="396.4" r="2.6"/><circle cx="117.5" cy="368.4" r="2.6"/><circle cx="117.5" cy="396.4" r="2.6"/><circle cx="123.8" cy="368.4" r="2.6"/><circle cx="123.8" cy="396.4" r="2.6"/><circle cx="130.0" cy="368.4" r="2.6"/><circle cx="130.0" cy="396.4" r="2.6"/><circle cx="136.2" cy="368.4" r="2.6"/><circle cx="136.2" cy="396.4" r="2.6"/><circle cx="142.5" cy="368.4" r="2.6"/><circle cx="142.5" cy="396.4" r="2.6"/><circle cx="148.8" cy="368.4" r="2.6"/><circle cx="148.8" cy="396.4" r="2.6"/><circle cx="155.0" cy="368.4" r="2.6"/><circle cx="155.0" cy="396.4" r="2.6"/><circle cx="161.2" cy="368.4" r="2.6"/><circle cx="161.2" cy="396.4" r="2.6"/><circle cx="167.5" cy="368.4" r="2.6"/><circle cx="167.5" cy="396.4" r="2.6"/><circle cx="173.8" cy="368.4" r="2.6"/><circle cx="173.8" cy="396.4" r="2.6"/><circle cx="180.0" cy="368.4" r="2.6"/><circle cx="180.0" cy="396.4" r="2.6"/><circle cx="186.2" cy="368.4" r="2.6"/><circle cx="186.2" cy="396.4" r="2.6"/><circle cx="192.5" cy="368.4" r="2.6"/><circle cx="192.5" cy="396.4" r="2.6"/><circle cx="198.8" cy="368.4" r="2.6"/><circle cx="198.8" cy="396.4" r="2.6"/><circle cx="205.0" cy="368.4" r="2.6"/><circle cx="205.0" cy="396.4" r="2.6"/><circle cx="211.2" cy="368.4" r="2.6"/><circle cx="211.2" cy="396.4" r="2.6"/><circle cx="217.5" cy="368.4" r="2.6"/><circle cx="217.5" cy="396.4" r="2.6"/><circle cx="223.8" cy="368.4" r="2.6"/><circle cx="223.8" cy="396.4" r="2.6"/><circle cx="230.0" cy="368.4" r="2.6"/><circle cx="230.0" cy="396.4" r="2.6"/><circle cx="236.2" cy="368.4" r="2.6"/><circle cx="236.2" cy="396.4" r="2.6"/><circle cx="242.5" cy="368.4" r="2.6"/><circle cx="242.5" cy="396.4" r="2.6"/><circle cx="248.8" cy="368.4" r="2.6"/><circle cx="248.8" cy="396.4" r="2.6"/><circle cx="255.0" cy="368.4" r="2.6"/><circle cx="255.0" cy="396.4" r="2.6"/><circle cx="261.2" cy="368.4" r="2.6"/><circle cx="261.2" cy="396.4" r="2.6"/><circle cx="267.5" cy="368.4" r="2.6"/><circle cx="267.5" cy="396.4" r="2.6"/><circle cx="273.8" cy="368.4" r="2.6"/><circle cx="273.8" cy="396.4" r="2.6"/><circle cx="280.0" cy="368.4" r="2.6"/><circle cx="280.0" cy="396.4" r="2.6"/><circle cx="286.2" cy="368.4" r="2.6"/><circle cx="286.2" cy="396.4" r="2.6"/><circle cx="292.5" cy="368.4" r="2.6"/><circle cx="292.5" cy="396.4" r="2.6"/><circle cx="298.8" cy="368.4" r="2.6"/><circle cx="298.8" cy="396.4" r="2.6"/><circle cx="305.0" cy="368.4" r="2.6"/><circle cx="305.0" cy="396.4" r="2.6"/><circle cx="311.2" cy="368.4" r="2.6"/><circle cx="311.2" cy="396.4" r="2.6"/><circle cx="317.5" cy="368.4" r="2.6"/><circle cx="317.5" cy="396.4" r="2.6"/><circle cx="323.8" cy="368.4" r="2.6"/><circle cx="323.8" cy="396.4" r="2.6"/><circle cx="330.0" cy="368.4" r="2.6"/><circle cx="330.0" cy="396.4" r="2.6"/><circle cx="336.2" cy="368.4" r="2.6"/><circle cx="336.2" cy="396.4" r="2.6"/><circle cx="342.5" cy="368.4" r="2.6"/><circle cx="342.5" cy="396.4" r="2.6"/><circle cx="348.8" cy="368.4" r="2.6"/><circle cx="348.8" cy="396.4" r="2.6"/><circle cx="355.0" cy="368.4" r="2.6"/><circle cx="355.0" cy="396.4" r="2.6"/><circle cx="361.2" cy="368.4" r="2.6"/><circle cx="361.2" cy="396.4" r="2.6"/><circle cx="367.5" cy="368.4" r="2.6"/><circle cx="367.5" cy="396.4" r="2.6"/><circle cx="373.8" cy="368.4" r="2.6"/><circle cx="373.8" cy="396.4" r="2.6"/><circle cx="380.0" cy="368.4" r="2.6"/><circle cx="380.0" cy="396.4" r="2.6"/><circle cx="386.2" cy="368.4" r="2.6"/><circle cx="386.2" cy="396.4" r="2.6"/><circle cx="392.5" cy="368.4" r="2.6"/><circle cx="392.5" cy="396.4" r="2.6"/><circle cx="398.8" cy="368.4" r="2.6"/><circle cx="398.8" cy="396.4" r="2.6"/><circle cx="405.0" cy="368.4" r="2.6"/><circle cx="405.0" cy="396.4" r="2.6"/><circle cx="411.2" cy="368.4" r="2.6"/><circle cx="411.2" cy="396.4" r="2.6"/><circle cx="417.5" cy="368.4" r="2.6"/><circle cx="417.5" cy="396.4" r="2.6"/><circle cx="423.8" cy="368.4" r="2.6"/><circle cx="423.8" cy="396.4" r="2.6"/><circle cx="429.8" cy="368.4" r="2.6"/><circle cx="430.2" cy="396.4" r="2.6"/><circle cx="435.7" cy="368.2" r="2.6"/><circle cx="436.8" cy="396.2" r="2.6"/><circle cx="441.6" cy="367.9" r="2.6"/><circle cx="443.4" cy="395.8" r="2.6"/><circle cx="447.4" cy="367.4" r="2.6"/><circle cx="450.0" cy="395.3" r="2.6"/><circle cx="453.2" cy="366.8" r="2.6"/><circle cx="456.7" cy="394.6" r="2.6"/><circle cx="458.9" cy="366.0" r="2.6"/><circle cx="463.4" cy="393.6" r="2.6"/><circle cx="464.5" cy="364.9" r="2.6"/><circle cx="470.0" cy="392.4" r="2.6"/><circle cx="470.0" cy="363.7" r="2.6"/><circle cx="476.7" cy="390.9" r="2.6"/><circle cx="475.4" cy="362.2" r="2.6"/><circle cx="483.4" cy="389.1" r="2.6"/><circle cx="480.8" cy="360.5" r="2.6"/><circle cx="489.9" cy="387.0" r="2.6"/><circle cx="486.0" cy="358.6" r="2.6"/><circle cx="496.4" cy="384.6" r="2.6"/><circle cx="491.2" cy="356.4" r="2.6"/><circle cx="502.7" cy="381.9" r="2.6"/><circle cx="496.3" cy="353.9" r="2.6"/><circle cx="508.9" cy="379.0" r="2.6"/><circle cx="501.5" cy="351.2" r="2.6"/><circle cx="514.8" cy="375.9" r="2.6"/><circle cx="506.7" cy="348.3" r="2.6"/><circle cx="520.5" cy="372.7" r="2.6"/><circle cx="511.9" cy="345.3" r="2.6"/><circle cx="526.1" cy="369.5" r="2.6"/><circle cx="517.4" cy="342.1" r="2.6"/><circle cx="531.5" cy="366.3" r="2.6"/><circle cx="522.9" cy="338.9" r="2.6"/><circle cx="536.7" cy="363.3" r="2.6"/><circle cx="528.7" cy="335.7" r="2.6"/><circle cx="541.9" cy="360.4" r="2.6"/><circle cx="534.6" cy="332.7" r="2.6"/><circle cx="547.1" cy="357.7" r="2.6"/><circle cx="540.7" cy="329.8" r="2.6"/><circle cx="552.3" cy="355.3" r="2.6"/><circle cx="546.9" cy="327.1" r="2.6"/><circle cx="557.5" cy="353.0" r="2.6"/><circle cx="553.3" cy="324.6" r="2.6"/><circle cx="562.8" cy="351.0" r="2.6"/><circle cx="559.7" cy="322.4" r="2.6"/><circle cx="568.2" cy="349.1" r="2.6"/><circle cx="566.2" cy="320.5" r="2.6"/><circle cx="573.7" cy="347.5" r="2.6"/><circle cx="572.7" cy="318.8" r="2.6"/><circle cx="579.3" cy="346.0" r="2.6"/><circle cx="579.3" cy="317.4" r="2.6"/><circle cx="584.9" cy="344.8" r="2.6"/><circle cx="585.9" cy="316.1" r="2.6"/><circle cx="590.6" cy="343.7" r="2.6"/><circle cx="592.4" cy="315.1" r="2.6"/><circle cx="596.4" cy="342.8" r="2.6"/><circle cx="599.0" cy="314.2" r="2.6"/><circle cx="602.3" cy="342.0" r="2.6"/><circle cx="605.5" cy="313.5" r="2.6"/><circle cx="608.2" cy="341.4" r="2.6"/><circle cx="612.0" cy="313.0" r="2.6"/><circle cx="614.1" cy="340.9" r="2.6"/><circle cx="618.5" cy="312.6" r="2.6"/><circle cx="620.1" cy="340.5" r="2.6"/><circle cx="625.0" cy="312.3" r="2.6"/><circle cx="626.0" cy="340.2" r="2.6"/><circle cx="631.5" cy="312.1" r="2.6"/><circle cx="632.1" cy="340.1" r="2.6"/><circle cx="638.0" cy="312.0" r="2.6"/><circle cx="638.1" cy="340.0" r="2.6"/><circle cx="644.3" cy="312.0" r="2.6"/><circle cx="644.3" cy="340.0" r="2.6"/><circle cx="650.5" cy="312.0" r="2.6"/><circle cx="650.5" cy="340.0" r="2.6"/><circle cx="656.8" cy="312.0" r="2.6"/><circle cx="656.8" cy="340.0" r="2.6"/><circle cx="663.0" cy="312.0" r="2.6"/><circle cx="663.0" cy="340.0" r="2.6"/><circle cx="669.3" cy="312.0" r="2.6"/><circle cx="669.3" cy="340.0" r="2.6"/><circle cx="675.5" cy="312.0" r="2.6"/><circle cx="675.5" cy="340.0" r="2.6"/><circle cx="681.8" cy="312.0" r="2.6"/><circle cx="681.8" cy="340.0" r="2.6"/><circle cx="688.0" cy="312.0" r="2.6"/><circle cx="688.0" cy="340.0" r="2.6"/><circle cx="694.3" cy="312.0" r="2.6"/><circle cx="694.3" cy="340.0" r="2.6"/><circle cx="700.5" cy="312.0" r="2.6"/><circle cx="700.5" cy="340.0" r="2.6"/><circle cx="706.8" cy="312.0" r="2.6"/><circle cx="706.8" cy="340.0" r="2.6"/><circle cx="713.0" cy="312.0" r="2.6"/><circle cx="713.0" cy="340.0" r="2.6"/><circle cx="719.3" cy="312.0" r="2.6"/><circle cx="719.3" cy="340.0" r="2.6"/><circle cx="725.5" cy="312.0" r="2.6"/><circle cx="725.5" cy="340.0" r="2.6"/><circle cx="731.8" cy="312.0" r="2.6"/><circle cx="731.8" cy="340.0" r="2.6"/><circle cx="738.0" cy="312.0" r="2.6"/><circle cx="738.0" cy="340.0" r="2.6"/><circle cx="744.3" cy="312.0" r="2.6"/><circle cx="744.3" cy="340.0" r="2.6"/><circle cx="750.5" cy="312.0" r="2.6"/><circle cx="750.5" cy="340.0" r="2.6"/><circle cx="756.8" cy="312.0" r="2.6"/><circle cx="756.8" cy="340.0" r="2.6"/><circle cx="763.0" cy="312.0" r="2.6"/><circle cx="763.0" cy="340.0" r="2.6"/><circle cx="769.3" cy="312.0" r="2.6"/><circle cx="769.3" cy="340.0" r="2.6"/><circle cx="775.5" cy="312.0" r="2.6"/><circle cx="775.5" cy="340.0" r="2.6"/><circle cx="781.8" cy="312.0" r="2.6"/><circle cx="781.8" cy="340.0" r="2.6"/><circle cx="788.0" cy="312.0" r="2.6"/><circle cx="788.0" cy="340.0" r="2.6"/><circle cx="794.3" cy="312.0" r="2.6"/><circle cx="794.3" cy="340.0" r="2.6"/><circle cx="800.5" cy="312.0" r="2.6"/><circle cx="800.5" cy="340.0" r="2.6"/><circle cx="806.8" cy="312.0" r="2.6"/><circle cx="806.8" cy="340.0" r="2.6"/><circle cx="813.0" cy="312.0" r="2.6"/><circle cx="813.0" cy="340.0" r="2.6"/><circle cx="819.3" cy="312.0" r="2.6"/><circle cx="819.3" cy="340.0" r="2.6"/><circle cx="825.5" cy="312.0" r="2.6"/><circle cx="825.5" cy="340.0" r="2.6"/><circle cx="831.8" cy="312.0" r="2.6"/><circle cx="831.8" cy="340.0" r="2.6"/><circle cx="838.0" cy="312.0" r="2.6"/><circle cx="838.0" cy="340.0" r="2.6"/><circle cx="844.3" cy="312.0" r="2.6"/><circle cx="844.3" cy="340.0" r="2.6"/><circle cx="850.5" cy="312.0" r="2.6"/><circle cx="850.5" cy="340.0" r="2.6"/><circle cx="856.8" cy="312.0" r="2.6"/><circle cx="856.8" cy="340.0" r="2.6"/><circle cx="863.0" cy="312.0" r="2.6"/><circle cx="863.0" cy="340.0" r="2.6"/><circle cx="869.3" cy="312.0" r="2.6"/><circle cx="869.3" cy="340.0" r="2.6"/><circle cx="875.5" cy="312.0" r="2.6"/><circle cx="875.5" cy="340.0" r="2.6"/><circle cx="881.8" cy="312.0" r="2.6"/><circle cx="881.8" cy="340.0" r="2.6"/><circle cx="888.0" cy="312.0" r="2.6"/><circle cx="888.0" cy="340.0" r="2.6"/><circle cx="894.3" cy="312.0" r="2.6"/><circle cx="894.3" cy="340.0" r="2.6"/><circle cx="900.5" cy="312.0" r="2.6"/><circle cx="900.5" cy="340.0" r="2.6"/><circle cx="906.8" cy="312.0" r="2.6"/><circle cx="906.8" cy="340.0" r="2.6"/><circle cx="913.0" cy="312.0" r="2.6"/><circle cx="913.0" cy="340.0" r="2.6"/><circle cx="919.3" cy="312.0" r="2.6"/><circle cx="919.3" cy="340.0" r="2.6"/><circle cx="925.5" cy="312.0" r="2.6"/><circle cx="925.5" cy="340.0" r="2.6"/><circle cx="931.8" cy="312.0" r="2.6"/><circle cx="931.8" cy="340.0" r="2.6"/><circle cx="938.0" cy="312.0" r="2.6"/><circle cx="938.0" cy="340.0" r="2.6"/><circle cx="944.3" cy="312.0" r="2.6"/><circle cx="944.3" cy="340.0" r="2.6"/><circle cx="950.5" cy="312.0" r="2.6"/><circle cx="950.5" cy="340.0" r="2.6"/><circle cx="956.8" cy="312.0" r="2.6"/><circle cx="956.8" cy="340.0" r="2.6"/><circle cx="963.0" cy="312.0" r="2.6"/><circle cx="963.0" cy="340.0" r="2.6"/><circle cx="969.3" cy="312.0" r="2.6"/><circle cx="969.3" cy="340.0" r="2.6"/><circle cx="975.5" cy="312.0" r="2.6"/><circle cx="975.5" cy="340.0" r="2.6"/><circle cx="981.8" cy="312.0" r="2.6"/><circle cx="981.8" cy="340.0" r="2.6"/><circle cx="988.0" cy="312.0" r="2.6"/><circle cx="988.0" cy="340.0" r="2.6"/><circle cx="994.3" cy="312.0" r="2.6"/><circle cx="994.3" cy="340.0" r="2.6"/><circle cx="1000.5" cy="312.0" r="2.6"/><circle cx="1000.5" cy="340.0" r="2.6"/><circle cx="1006.8" cy="312.0" r="2.6"/><circle cx="1006.8" cy="340.0" r="2.6"/><circle cx="1013.0" cy="312.0" r="2.6"/><circle cx="1013.0" cy="340.0" r="2.6"/><circle cx="1019.3" cy="312.0" r="2.6"/><circle cx="1019.3" cy="340.0" r="2.6"/><circle cx="1025.5" cy="312.0" r="2.6"/><circle cx="1025.5" cy="340.0" r="2.6"/><circle cx="1031.8" cy="312.0" r="2.6"/><circle cx="1031.8" cy="340.0" r="2.6"/><circle cx="1038.0" cy="312.0" r="2.6"/><circle cx="1038.0" cy="340.0" r="2.6"/><circle cx="1044.3" cy="312.0" r="2.6"/><circle cx="1044.3" cy="340.0" r="2.6"/><circle cx="1050.5" cy="312.0" r="2.6"/><circle cx="1050.5" cy="340.0" r="2.6"/><circle cx="1056.8" cy="312.0" r="2.6"/><circle cx="1056.8" cy="340.0" r="2.6"/><circle cx="1063.0" cy="312.0" r="2.6"/><circle cx="1063.0" cy="340.0" r="2.6"/><circle cx="1069.3" cy="312.0" r="2.6"/><circle cx="1069.3" cy="340.0" r="2.6"/><circle cx="1075.5" cy="312.0" r="2.6"/><circle cx="1075.5" cy="340.0" r="2.6"/><circle cx="1081.8" cy="312.0" r="2.6"/><circle cx="1081.8" cy="340.0" r="2.6"/><circle cx="1088.0" cy="312.0" r="2.6"/><circle cx="1088.0" cy="340.0" r="2.6"/></g>
<path d="M345.0,205.0 L352.4,205.0 L359.8,205.0 L367.3,205.0 L374.7,205.0 L382.1,205.0 L389.5,205.0 L397.0,205.0 L404.4,205.0 L411.8,205.0 L419.2,205.0 L426.7,205.0 L434.1,205.0 L441.5,205.0 L448.9,205.0" stroke="#faf4f5" stroke-width="27.0" fill="none"/>
<path d="M343.7 191.5L344.4 203.5M346.3 191.5L345.6 203.5M343.7 218.5L344.4 206.5M346.3 218.5L345.6 206.5M349.8 191.5L350.5 203.5M352.4 191.5L351.8 203.5M349.8 218.5L350.5 206.5M352.4 218.5L351.8 206.5M355.9 191.5L356.6 203.5M358.5 191.5L357.8 203.5M355.9 218.5L356.6 206.5M358.5 218.5L357.8 206.5M362.0 191.5L362.7 203.5M364.6 191.5L363.9 203.5M362.0 218.5L362.7 206.5M364.6 218.5L363.9 206.5M368.1 191.5L368.8 203.5M370.7 191.5L370.0 203.5M368.1 218.5L368.8 206.5M370.7 218.5L370.0 206.5M374.2 191.5L374.9 203.5M376.8 191.5L376.1 203.5M374.2 218.5L374.9 206.5M376.8 218.5L376.1 206.5M380.3 191.5L381.0 203.5M382.9 191.5L382.2 203.5M380.3 218.5L381.0 206.5M382.9 218.5L382.2 206.5M386.4 191.5L387.1 203.5M389.0 191.5L388.3 203.5M386.4 218.5L387.1 206.5M389.0 218.5L388.3 206.5M392.5 191.5L393.2 203.5M395.1 191.5L394.4 203.5M392.5 218.5L393.2 206.5M395.1 218.5L394.4 206.5M398.6 191.5L399.2 203.5M401.2 191.5L400.5 203.5M398.6 218.5L399.2 206.5M401.2 218.5L400.5 206.5M404.7 191.5L405.4 203.5M407.3 191.5L406.6 203.5M404.7 218.5L405.4 206.5M407.3 218.5L406.6 206.5M410.8 191.5L411.5 203.5M413.4 191.5L412.8 203.5M410.8 218.5L411.5 206.5M413.4 218.5L412.8 206.5M416.9 191.5L417.6 203.5M419.5 191.5L418.8 203.5M416.9 218.5L417.6 206.5M419.5 218.5L418.8 206.5M423.0 191.5L423.7 203.5M425.6 191.5L424.9 203.5M423.0 218.5L423.7 206.5M425.6 218.5L424.9 206.5M429.1 191.5L429.8 203.5M431.7 191.5L431.0 203.5M429.1 218.5L429.8 206.5M431.7 218.5L431.0 206.5M435.2 191.5L435.9 203.5M437.8 191.5L437.1 203.5M435.2 218.5L435.9 206.5M437.8 218.5L437.1 206.5M441.3 191.5L442.0 203.5M443.9 191.5L443.2 203.5M441.3 218.5L442.0 206.5M443.9 218.5L443.2 206.5M447.4 191.5L448.1 203.5M450.0 191.5L449.3 203.5M447.4 218.5L448.1 206.5M450.0 218.5L449.3 206.5M453.5 191.5L454.2 203.5M456.1 191.5L455.4 203.5M453.5 218.5L454.2 206.5M456.1 218.5L455.4 206.5" stroke="#d9bcc3" stroke-width="0.7" fill="none"/>
<g fill="#ab8793"><circle cx="345.0" cy="191.5" r="2.4"/><circle cx="345.0" cy="218.5" r="2.4"/><circle cx="351.1" cy="191.5" r="2.4"/><circle cx="351.1" cy="218.5" r="2.4"/><circle cx="357.2" cy="191.5" r="2.4"/><circle cx="357.2" cy="218.5" r="2.4"/><circle cx="363.3" cy="191.5" r="2.4"/><circle cx="363.3" cy="218.5" r="2.4"/><circle cx="369.4" cy="191.5" r="2.4"/><circle cx="369.4" cy="218.5" r="2.4"/><circle cx="375.5" cy="191.5" r="2.4"/><circle cx="375.5" cy="218.5" r="2.4"/><circle cx="381.6" cy="191.5" r="2.4"/><circle cx="381.6" cy="218.5" r="2.4"/><circle cx="387.7" cy="191.5" r="2.4"/><circle cx="387.7" cy="218.5" r="2.4"/><circle cx="393.8" cy="191.5" r="2.4"/><circle cx="393.8" cy="218.5" r="2.4"/><circle cx="399.9" cy="191.5" r="2.4"/><circle cx="399.9" cy="218.5" r="2.4"/><circle cx="406.0" cy="191.5" r="2.4"/><circle cx="406.0" cy="218.5" r="2.4"/><circle cx="412.1" cy="191.5" r="2.4"/><circle cx="412.1" cy="218.5" r="2.4"/><circle cx="418.2" cy="191.5" r="2.4"/><circle cx="418.2" cy="218.5" r="2.4"/><circle cx="424.3" cy="191.5" r="2.4"/><circle cx="424.3" cy="218.5" r="2.4"/><circle cx="430.4" cy="191.5" r="2.4"/><circle cx="430.4" cy="218.5" r="2.4"/><circle cx="436.5" cy="191.5" r="2.4"/><circle cx="436.5" cy="218.5" r="2.4"/><circle cx="442.6" cy="191.5" r="2.4"/><circle cx="442.6" cy="218.5" r="2.4"/><circle cx="448.7" cy="191.5" r="2.4"/><circle cx="448.7" cy="218.5" r="2.4"/><circle cx="454.8" cy="191.5" r="2.4"/><circle cx="454.8" cy="218.5" r="2.4"/></g>
<line x1="507" y1="30.5" x2="507" y2="422" stroke="#303030" stroke-width="1.9" stroke-dasharray="4.4 4.9"/>
<circle cx="575.8" cy="211.5" r="4.6" fill="#e1b350" stroke="#cfa040" stroke-width="0.8"/>
<circle cx="639.5" cy="200.3" r="4.6" fill="#e1b350" stroke="#cfa040" stroke-width="0.8"/>
<circle cx="761.7" cy="225.2" r="4.6" fill="#e1b350" stroke="#cfa040" stroke-width="0.8"/>
<circle cx="894.1" cy="165" r="4.6" fill="#e1b350" stroke="#cfa040" stroke-width="0.8"/>
<circle cx="907.9" cy="276.2" r="4.6" fill="#e1b350" stroke="#cfa040" stroke-width="0.8"/>
<circle cx="957.0" cy="15.9" r="4.8" fill="#eccb94" stroke="#e0bd86" stroke-width="0.6"/>
<circle cx="959.2" cy="30.2" r="4.8" fill="#eccb94" stroke="#e0bd86" stroke-width="0.6"/>
<circle cx="989.9" cy="23.6" r="4.8" fill="#eccb94" stroke="#e0bd86" stroke-width="0.6"/>
<circle cx="1002.2" cy="15.9" r="4.8" fill="#eccb94" stroke="#e0bd86" stroke-width="0.6"/>
<circle cx="971.8" cy="44.4" r="4.8" fill="#eccb94" stroke="#e0bd86" stroke-width="0.6"/>
<circle cx="972.9" cy="11.0" r="4.9" fill="#e3900f" stroke="#b8700c" stroke-width="0.9"/>
<circle cx="987.7" cy="7.1" r="4.9" fill="#e3900f" stroke="#b8700c" stroke-width="0.9"/>
<circle cx="973.5" cy="30.5" r="4.9" fill="#e3900f" stroke="#b8700c" stroke-width="0.9"/>
<circle cx="987.7" cy="41.7" r="4.9" fill="#e3900f" stroke="#b8700c" stroke-width="0.9"/>
<circle cx="1003.9" cy="35.6" r="4.9" fill="#e3900f" stroke="#b8700c" stroke-width="0.9"/>
<circle cx="960.5" cy="397.9" r="4.8" fill="#eccb94" stroke="#e0bd86" stroke-width="0.6"/>
<circle cx="962.7" cy="412.2" r="4.8" fill="#eccb94" stroke="#e0bd86" stroke-width="0.6"/>
<circle cx="993.4" cy="405.6" r="4.8" fill="#eccb94" stroke="#e0bd86" stroke-width="0.6"/>
<circle cx="1005.7" cy="397.9" r="4.8" fill="#eccb94" stroke="#e0bd86" stroke-width="0.6"/>
<circle cx="975.3" cy="426.4" r="4.8" fill="#eccb94" stroke="#e0bd86" stroke-width="0.6"/>
<circle cx="976.4" cy="393.0" r="4.9" fill="#e3900f" stroke="#b8700c" stroke-width="0.9"/>
<circle cx="991.2" cy="389.1" r="4.9" fill="#e3900f" stroke="#b8700c" stroke-width="0.9"/>
<circle cx="977.0" cy="412.5" r="4.9" fill="#e3900f" stroke="#b8700c" stroke-width="0.9"/>
<circle cx="991.2" cy="423.7" r="4.9" fill="#e3900f" stroke="#b8700c" stroke-width="0.9"/>
<circle cx="1007.4" cy="417.6" r="4.9" fill="#e3900f" stroke="#b8700c" stroke-width="0.9"/>
<g stroke="#1d4a4e" stroke-width="3.2" fill="none"><path d="M206.8,24 L206.8,148 M216,24 L216,148"/></g>
<rect x="201.6" y="35" width="10" height="47.5" rx="5" fill="#3b8fc6" stroke="#1e4a6a" stroke-width="1.1"/>
<rect x="211.4" y="35" width="10" height="47.5" rx="5" fill="#3b8fc6" stroke="#1e4a6a" stroke-width="1.1"/>
<rect x="-13" y="-4.3" width="26" height="8.6" fill="#3d97cc" stroke="#1d4a6e" stroke-width="1.2" transform="translate(197.9,159.6) rotate(-50)"/>
<rect x="-13" y="-4.3" width="26" height="8.6" fill="#3d97cc" stroke="#1d4a6e" stroke-width="1.2" transform="translate(225.3,160) rotate(50)"/>
<ellipse cx="213" cy="163" rx="5.4" ry="4.6" fill="#1a6f66"/>
<path d="M217.8,166.5 Q219,171 216,177" stroke="#1a4a4a" stroke-width="1" fill="none"/>
<path d="M214.5,176.8 L178.4,197.6" stroke="#a83a5a" stroke-width="8.2" stroke-linecap="round"/>
<path d="M214.5,176.8 L178.4,197.6" stroke="#d95479" stroke-width="6.2" stroke-linecap="round"/>
<path d="M176.5,199.5 L172,204" stroke="#3d5a99" stroke-width="1"/>
<circle cx="171.2" cy="205.4" r="4.75" fill="#3d5a99"/>
<circle cx="166.6" cy="212.5" r="4.75" fill="#3d5a99"/>
<circle cx="162.1" cy="219.6" r="4.75" fill="#3d5a99"/>
<circle cx="157.5" cy="226.7" r="4.75" fill="#3d5a99"/>
<circle cx="153.0" cy="233.8" r="4.75" fill="#3d5a99"/>
<circle cx="148.4" cy="241.0" r="4.75" fill="#3d5a99"/>
<circle cx="143.9" cy="248.1" r="4.75" fill="#3d5a99"/>
<circle cx="139.3" cy="255.2" r="4.75" fill="#3d5a99"/>
<circle cx="134.8" cy="262.3" r="4.75" fill="#3d5a99"/>
<circle cx="130.2" cy="269.4" r="4.75" fill="#3d5a99"/>
<path d="M49,121 L54.3,89.9 M67,119.5 L88.8,94.8 M84,126 L113.5,117.8 M92,141 L123.4,149 M92,160.6 L115,182 M84,175 L90.5,205 M67,182 L57.6,211.6 M49,177 L21.4,195 M36,167 L3.3,167 M31,147 L1.6,132.6 M34.5,134 L21.4,103 " stroke="#354a80" stroke-width="3.5" stroke-linecap="round" stroke-dasharray="0 3.75" fill="none"/>
<path d="M50.1,123.4 L67.5,126.4 M66.8,121.0 L79.9,133.0 M82.2,128.1 L86.5,144.4 M91.0,141.3 L85.5,160.0 M90.9,160.2 L77.8,170.2 M82.4,173.2 L64.6,175.4 M66.8,180.4 L49.9,172.0 M48.8,177.4 L40.6,162.4 M36.9,166.4 L38.1,146.3 M32.7,147.2 L42.0,136.7 M36.7,135.3 L53.6,127.5 " fill="none" stroke="#d3607c" stroke-width="3" stroke-linecap="round"/>
<circle cx="62.5" cy="150.7" r="22.8" fill="#ffffff"/>
<circle cx="62.5" cy="150.7" r="20.2" fill="none" stroke="#137a74" stroke-width="5.0" stroke-dasharray="0 4.4" stroke-linecap="round"/>
<circle cx="62.5" cy="150.7" r="20.2" fill="none" stroke="#137a74" stroke-width="3"/>
<circle cx="62.5" cy="150.7" r="16.6" fill="none" stroke="#9adfe6" stroke-width="1.8" stroke-dasharray="0 2.6" stroke-linecap="round"/>
<circle cx="62.5" cy="150.7" r="15" fill="none" stroke="#1f7f7c" stroke-width="1.1"/>
<g fill="#6f52ad"><ellipse cx="69.4" cy="151.6" rx="4.9" ry="1.9" transform="rotate(7.4 69.4 151.6)"/><ellipse cx="68.1" cy="155.0" rx="4.9" ry="1.9" transform="rotate(37.4 68.1 155.0)"/><ellipse cx="65.2" cy="157.2" rx="4.9" ry="1.9" transform="rotate(67.4 65.2 157.2)"/><ellipse cx="61.6" cy="157.6" rx="4.9" ry="1.9" transform="rotate(97.4 61.6 157.6)"/><ellipse cx="58.2" cy="156.3" rx="4.9" ry="1.9" transform="rotate(127.4 58.2 156.3)"/><ellipse cx="56.0" cy="153.4" rx="4.9" ry="1.9" transform="rotate(157.4 56.0 153.4)"/><ellipse cx="55.6" cy="149.8" rx="4.9" ry="1.9" transform="rotate(187.4 55.6 149.8)"/><ellipse cx="56.9" cy="146.4" rx="4.9" ry="1.9" transform="rotate(217.4 56.9 146.4)"/><ellipse cx="59.8" cy="144.2" rx="4.9" ry="1.9" transform="rotate(247.4 59.8 144.2)"/><ellipse cx="63.4" cy="143.8" rx="4.9" ry="1.9" transform="rotate(277.4 63.4 143.8)"/><ellipse cx="66.8" cy="145.1" rx="4.9" ry="1.9" transform="rotate(307.4 66.8 145.1)"/><ellipse cx="69.0" cy="148.0" rx="4.9" ry="1.9" transform="rotate(337.4 69.0 148.0)"/></g>
<circle cx="62.5" cy="150.7" r="1.8" fill="#ffffff"/>
<g transform="translate(310,316) scale(1.0,1.0)">
<mask id="m1" maskUnits="userSpaceOnUse" x="-70" y="-50" width="140" height="160"><rect x="-70" y="-50" width="140" height="160" fill="#fff"/><circle r="14" fill="#000"/><rect x="-1.3" y="14" width="2.6" height="80" fill="#000"/></mask>
<g transform="scale(1,1)" fill="#62c5cd" stroke="#62c5cd">
<g mask="url(#m1)">
<path stroke="none" d="M0,-7.9 L-21.5,-7.9 A13.4 13.4 0 0 0 -21.5,18.9 C-15,18.9 -11.0,22 -10.8,30 L-10.8,84.0 Q-10.8,88.5 -6.1000000000000005,88.5 Q-1.4,88.5 -1.4,84.0 L-1.4,10 Z"/>
</g>
<path stroke="none" d="M-29.8,-4 L-29.8,-18 Q-29.8,-21 -27,-21 Q-24.2,-21 -24.2,-18 L-24.2,-4 Z"/>
<g transform="translate(0,0)">
<path fill="none" stroke-width="6.8" stroke-linecap="round" d="M-45.5,46.5 Q-36.2,45 -36.2,52 L-36.2,84.5"/>
<path fill="none" stroke-width="7.4" stroke-linecap="round" d="M-26.9,49 L-26.9,84.5"/>
<path fill="none" stroke-width="7.4" stroke-linecap="round" d="M-16.6,49 L-16.6,84.5"/>
<path fill="none" stroke-width="1.5" d="M-35,87.0 C-35,93.0 -28,93.0 -28,87.0 M-25.5,46 C-25.5,40 -18,40 -18,46 M-15.5,87.0 C-15.5,93.0 -7.500000000000001,93.0 -7.500000000000001,87.0"/>
</g>
</g>
<circle cx="-26.9" cy="-23.8" r="3.4" fill="#f3cdd5"/>
<g transform="scale(-1,1)" fill="#167cbd" stroke="#167cbd">
<g mask="url(#m1)">
<path stroke="none" d="M0,-7.9 L-21.5,-7.9 A13.4 13.4 0 0 0 -21.5,18.9 C-15,18.9 -11.0,22 -10.8,30 L-10.8,84.0 Q-10.8,88.5 -6.1000000000000005,88.5 Q-1.4,88.5 -1.4,84.0 L-1.4,10 Z"/>
</g>
<path stroke="none" d="M-29.8,-4 L-29.8,-18 Q-29.8,-21 -27,-21 Q-24.2,-21 -24.2,-18 L-24.2,-4 Z"/>
<g transform="translate(0,0)">
<path fill="none" stroke-width="6.8" stroke-linecap="round" d="M-45.5,46.5 Q-36.2,45 -36.2,52 L-36.2,84.5"/>
<path fill="none" stroke-width="7.4" stroke-linecap="round" d="M-26.9,49 L-26.9,84.5"/>
<path fill="none" stroke-width="7.4" stroke-linecap="round" d="M-16.6,49 L-16.6,84.5"/>
<path fill="none" stroke-width="1.5" d="M-35,87.0 C-35,93.0 -28,93.0 -28,87.0 M-25.5,46 C-25.5,40 -18,40 -18,46 M-15.5,87.0 C-15.5,93.0 -7.500000000000001,93.0 -7.500000000000001,87.0"/>
</g>
</g>
<circle cx="26.9" cy="-23.8" r="3.4" fill="#f3cdd5"/>
<circle r="10.5" fill="none" stroke="#6d2f4b" stroke-width="1.5"/>
<circle cx="-7.4" cy="-0.4" r="5.2" fill="#f2c230"/>
<circle cx="7.4" cy="-0.4" r="5.2" fill="#9dc07d"/>
</g>
<g transform="translate(397.9,135.6) scale(1.0,1.0)">
<mask id="m2" maskUnits="userSpaceOnUse" x="-70" y="-50" width="140" height="160"><rect x="-70" y="-50" width="140" height="160" fill="#fff"/><circle r="14" fill="#000"/><rect x="-1.3" y="14" width="2.6" height="80" fill="#000"/></mask>
<g transform="scale(1,1)" fill="#167cbd" stroke="#167cbd">
<g mask="url(#m2)">
<path stroke="none" d="M0,-7.9 L-21.5,-7.9 A13.4 13.4 0 0 0 -21.5,18.9 C-15,18.9 -8.399999999999999,22 -8.2,30 L-8.2,84.0 Q-8.2,88.5 -4.8,88.5 Q-1.4,88.5 -1.4,84.0 L-1.4,10 Z"/>
</g>
<path stroke="none" d="M-29.8,-4 L-29.8,-18 Q-29.8,-21 -27,-21 Q-24.2,-21 -24.2,-18 L-24.2,-4 Z"/>
<g transform="translate(2.4,0)">
<path fill="none" stroke-width="6.8" stroke-linecap="round" d="M-45.5,46.5 Q-36.2,45 -36.2,52 L-36.2,84.5"/>
<path fill="none" stroke-width="7.4" stroke-linecap="round" d="M-26.9,49 L-26.9,84.5"/>
<path fill="none" stroke-width="7.4" stroke-linecap="round" d="M-16.6,49 L-16.6,84.5"/>
<path fill="none" stroke-width="1.5" d="M-35,87.0 C-35,93.0 -28,93.0 -28,87.0 M-25.5,46 C-25.5,40 -18,40 -18,46 M-15.5,87.0 C-15.5,93.0 -7.299999999999999,93.0 -7.299999999999999,87.0"/>
</g>
</g>
<circle cx="-26.9" cy="-23.8" r="3.4" fill="#f3cdd5"/>
<g transform="scale(-1,1)" fill="#62c5cd" stroke="#62c5cd">
<g mask="url(#m2)">
<path stroke="none" d="M0,-7.9 L-21.5,-7.9 A13.4 13.4 0 0 0 -21.5,18.9 C-15,18.9 -8.399999999999999,22 -8.2,30 L-8.2,84.0 Q-8.2,88.5 -4.8,88.5 Q-1.4,88.5 -1.4,84.0 L-1.4,10 Z"/>
</g>
<path stroke="none" d="M-29.8,-4 L-29.8,-18 Q-29.8,-21 -27,-21 Q-24.2,-21 -24.2,-18 L-24.2,-4 Z"/>
<g transform="translate(2.4,0)">
<path fill="none" stroke-width="6.8" stroke-linecap="round" d="M-45.5,46.5 Q-36.2,45 -36.2,52 L-36.2,84.5"/>
<path fill="none" stroke-width="7.4" stroke-linecap="round" d="M-26.9,49 L-26.9,84.5"/>
<path fill="none" stroke-width="7.4" stroke-linecap="round" d="M-16.6,49 L-16.6,84.5"/>
<path fill="none" stroke-width="1.5" d="M-35,87.0 C-35,93.0 -28,93.0 -28,87.0 M-25.5,46 C-25.5,40 -18,40 -18,46 M-15.5,87.0 C-15.5,93.0 -7.299999999999999,93.0 -7.299999999999999,87.0"/>
</g>
</g>
<circle cx="26.9" cy="-23.8" r="3.4" fill="#f3cdd5"/>
<circle r="10.5" fill="none" stroke="#6d2f4b" stroke-width="1.5"/>
<circle cx="-7.4" cy="-0.4" r="5.2" fill="#9dc07d"/>
<circle cx="7.4" cy="-0.4" r="5.2" fill="#f2c230"/>
</g>
<g transform="translate(647,257) scale(1.0,1.0)">
<mask id="m3" maskUnits="userSpaceOnUse" x="-70" y="-50" width="140" height="160"><rect x="-70" y="-50" width="140" height="160" fill="#fff"/><circle r="14" fill="#000"/><rect x="-1.3" y="14" width="2.6" height="80" fill="#000"/></mask>
<g transform="scale(1,1)" fill="#62c5cd" stroke="#62c5cd">
<g mask="url(#m3)">
<path stroke="none" d="M0,-7.9 L-21.5,-7.9 A13.4 13.4 0 0 0 -21.5,18.9 C-15,18.9 -11.0,22 -10.8,30 L-10.8,84.0 Q-10.8,88.5 -6.1000000000000005,88.5 Q-1.4,88.5 -1.4,84.0 L-1.4,10 Z"/>
</g>
<path stroke="none" d="M-29.8,-4 L-29.8,-18 Q-29.8,-21 -27,-21 Q-24.2,-21 -24.2,-18 L-24.2,-4 Z"/>
<g transform="translate(0,0)">
<path fill="none" stroke-width="6.8" stroke-linecap="round" d="M-45.5,46.5 Q-36.2,45 -36.2,52 L-36.2,84.5"/>
<path fill="none" stroke-width="7.4" stroke-linecap="round" d="M-26.9,49 L-26.9,84.5"/>
<path fill="none" stroke-width="7.4" stroke-linecap="round" d="M-16.6,49 L-16.6,84.5"/>
<path fill="none" stroke-width="1.5" d="M-35,87.0 C-35,93.0 -28,93.0 -28,87.0 M-25.5,46 C-25.5,40 -18,40 -18,46 M-15.5,87.0 C-15.5,93.0 -7.500000000000001,93.0 -7.500000000000001,87.0"/>
</g>
</g>
<circle cx="-26.9" cy="-23.8" r="3.4" fill="#f3cdd5"/>
<g transform="scale(-1,1)" fill="#167cbd" stroke="#167cbd">
<g mask="url(#m3)">
<path stroke="none" d="M0,-7.9 L-21.5,-7.9 A13.4 13.4 0 0 0 -21.5,18.9 C-15,18.9 -11.0,22 -10.8,30 L-10.8,84.0 Q-10.8,88.5 -6.1000000000000005,88.5 Q-1.4,88.5 -1.4,84.0 L-1.4,10 Z"/>
</g>
<path stroke="none" d="M-29.8,-4 L-29.8,-18 Q-29.8,-21 -27,-21 Q-24.2,-21 -24.2,-18 L-24.2,-4 Z"/>
<g transform="translate(0,0)">
<path fill="none" stroke-width="6.8" stroke-linecap="round" d="M-45.5,46.5 Q-36.2,45 -36.2,52 L-36.2,84.5"/>
<path fill="none" stroke-width="7.4" stroke-linecap="round" d="M-26.9,49 L-26.9,84.5"/>
<path fill="none" stroke-width="7.4" stroke-linecap="round" d="M-16.6,49 L-16.6,84.5"/>
<path fill="none" stroke-width="1.5" d="M-35,87.0 C-35,93.0 -28,93.0 -28,87.0 M-25.5,46 C-25.5,40 -18,40 -18,46 M-15.5,87.0 C-15.5,93.0 -7.500000000000001,93.0 -7.500000000000001,87.0"/>
</g>
</g>
<circle cx="26.9" cy="-23.8" r="3.4" fill="#f3cdd5"/>
<circle r="10.5" fill="none" stroke="#6d2f4b" stroke-width="1.5"/>
<circle cx="-7.4" cy="-0.4" r="5.2" fill="#f2c230"/>
<circle cx="7.4" cy="-0.4" r="5.2" fill="#9dc07d"/>
</g>
<g transform="translate(808.5,166.3) scale(0.88,-0.88)">
<mask id="m4" maskUnits="userSpaceOnUse" x="-70" y="-50" width="140" height="160"><rect x="-70" y="-50" width="140" height="160" fill="#fff"/><circle r="14" fill="#000"/><rect x="-1.3" y="14" width="2.6" height="80" fill="#000"/></mask>
<g transform="scale(1,1)" fill="#167cbd" stroke="#167cbd">
<g mask="url(#m4)">
<path stroke="none" d="M0,-7.9 L-21.5,-7.9 A13.4 13.4 0 0 0 -21.5,18.9 C-15,18.9 -11.0,22 -10.8,30 L-10.8,80.5 Q-10.8,85 -6.1000000000000005,85 Q-1.4,85 -1.4,80.5 L-1.4,10 Z"/>
</g>
<path stroke="none" d="M-29.8,-4 L-29.8,-18 Q-29.8,-21 -27,-21 Q-24.2,-21 -24.2,-18 L-24.2,-4 Z"/>
<g transform="translate(0,0)">
<path fill="none" stroke-width="6.8" stroke-linecap="round" d="M-45.5,46.5 Q-36.2,45 -36.2,52 L-36.2,81"/>
<path fill="none" stroke-width="7.4" stroke-linecap="round" d="M-26.9,49 L-26.9,81"/>
<path fill="none" stroke-width="7.4" stroke-linecap="round" d="M-16.6,49 L-16.6,81"/>
<path fill="none" stroke-width="1.5" d="M-35,83.5 C-35,89.5 -28,89.5 -28,83.5 M-25.5,46 C-25.5,40 -18,40 -18,46 M-15.5,83.5 C-15.5,89.5 -7.500000000000001,89.5 -7.500000000000001,83.5"/>
</g>
</g>
<circle cx="-26.9" cy="-23.8" r="3.4" fill="#f3cdd5"/>
<g transform="scale(-1,1)" fill="#62c5cd" stroke="#62c5cd">
<g mask="url(#m4)">
<path stroke="none" d="M0,-7.9 L-21.5,-7.9 A13.4 13.4 0 0 0 -21.5,18.9 C-15,18.9 -11.0,22 -10.8,30 L-10.8,80.5 Q-10.8,85 -6.1000000000000005,85 Q-1.4,85 -1.4,80.5 L-1.4,10 Z"/>
</g>
<path stroke="none" d="M-29.8,-4 L-29.8,-18 Q-29.8,-21 -27,-21 Q-24.2,-21 -24.2,-18 L-24.2,-4 Z"/>
<g transform="translate(0,0)">
<path fill="none" stroke-width="6.8" stroke-linecap="round" d="M-45.5,46.5 Q-36.2,45 -36.2,52 L-36.2,81"/>
<path fill="none" stroke-width="7.4" stroke-linecap="round" d="M-26.9,49 L-26.9,81"/>
<path fill="none" stroke-width="7.4" stroke-linecap="round" d="M-16.6,49 L-16.6,81"/>
<path fill="none" stroke-width="1.5" d="M-35,83.5 C-35,89.5 -28,89.5 -28,83.5 M-25.5,46 C-25.5,40 -18,40 -18,46 M-15.5,83.5 C-15.5,89.5 -7.500000000000001,89.5 -7.500000000000001,83.5"/>
</g>
</g>
<circle cx="26.9" cy="-23.8" r="3.4" fill="#f3cdd5"/>
<circle r="10.5" fill="none" stroke="#6d2f4b" stroke-width="1.5"/>
<circle cx="-7.4" cy="-0.4" r="5.2" fill="#9dc07d"/>
<circle cx="7.4" cy="-0.4" r="5.2" fill="#f2c230"/>
</g>
<path d="M366,99 Q368,95.6 376,95.6 L419,95.6 Q426,95.6 426,103 L426,111 Q426,118.3 418,118.3 L382,118.3 Q376,118 374,113 Q372,110 368,109 Q365.3,107 365.3,103 Z" fill="#eeadad" stroke="#d99a9a" stroke-width="1"/>
<path d="M425,109 C445,108 465,108 477,109.5 C486,111 488,116 487.5,121 C487,128 482,131.5 470,132.5 C455,133.5 440,133.5 426,132.5 C417,131.5 413,127 413,121 C413,113 417,109.5 425,109 Z" fill="#c893c9" stroke="#87548a" stroke-width="1.3"/>
<path d="M846.3,81 L846.3,152" stroke="#9a6bbd" stroke-width="3.4"/>
<path d="M860.5,81 L860.5,152 M846,271 L846,342 M862,271 L862,342" stroke="#e77b76" stroke-width="3.6"/>
<rect x="839.6" y="151.0" width="13.2" height="18.8" rx="4.6" fill="#9a6bbd"/>
<rect x="854" y="151.0" width="13.2" height="18.8" rx="4.6" fill="#e77b76"/>
<rect x="839.6" y="170.0" width="13.2" height="18.8" rx="4.6" fill="#9a6bbd"/>
<rect x="854" y="170.0" width="13.2" height="18.8" rx="4.6" fill="#e77b76"/>
<rect x="839.6" y="189.0" width="13.2" height="18.8" rx="4.6" fill="#9a6bbd"/>
<rect x="854" y="189.0" width="13.2" height="18.8" rx="4.6" fill="#e77b76"/>
<rect x="839.4" y="215.5" width="13.4" height="18.5" rx="4.6" fill="#e77b76"/>
<rect x="855.5" y="215.5" width="13.4" height="18.5" rx="4.6" fill="#e77b76"/>
<rect x="839.4" y="234.2" width="13.4" height="18.5" rx="4.6" fill="#e77b76"/>
<rect x="855.5" y="234.2" width="13.4" height="18.5" rx="4.6" fill="#e77b76"/>
<rect x="839.4" y="252.9" width="13.4" height="18.5" rx="4.6" fill="#e77b76"/>
<rect x="855.5" y="252.9" width="13.4" height="18.5" rx="4.6" fill="#e77b76"/>
<circle cx="958.5" cy="97.5" r="5.6" fill="#274670"/>
<circle cx="1000.5" cy="97.5" r="5.6" fill="#294b76"/>
<circle cx="966.9" cy="97.5" r="5.6" fill="#2b507c"/>
<circle cx="992.1" cy="97.5" r="5.6" fill="#2c5481"/>
<circle cx="975.3" cy="97.5" r="5.6" fill="#2e5987"/>
<circle cx="983.7" cy="97.5" r="5.6" fill="#2f5e8c"/>
<circle cx="962.7" cy="104.5" r="5.6" fill="#3483bf"/>
<circle cx="996.3" cy="104.5" r="5.6" fill="#398ac4"/>
<circle cx="971.1" cy="104.5" r="5.6" fill="#3d91ca"/>
<circle cx="987.9" cy="104.5" r="5.6" fill="#4198cf"/>
<circle cx="979.5" cy="104.5" r="5.6" fill="#469fd5"/>
<circle cx="958.5" cy="111.4" r="5.6" fill="#3479b9"/>
<circle cx="1000.5" cy="111.4" r="5.6" fill="#387fbf"/>
<circle cx="966.9" cy="111.4" r="5.6" fill="#3d85c5"/>
<circle cx="992.1" cy="111.4" r="5.6" fill="#428cca"/>
<circle cx="975.3" cy="111.4" r="5.6" fill="#4692d0"/>
<circle cx="983.7" cy="111.4" r="5.6" fill="#4b99d5"/>
<circle cx="962.7" cy="118.3" r="5.6" fill="#4162a3"/>
<circle cx="996.3" cy="118.3" r="5.6" fill="#4769aa"/>
<circle cx="971.1" cy="118.3" r="5.6" fill="#4d70b2"/>
<circle cx="987.9" cy="118.3" r="5.6" fill="#5376b9"/>
<circle cx="979.5" cy="118.3" r="5.6" fill="#597dc0"/>
<circle cx="958.5" cy="125.3" r="5.6" fill="#e08591"/>
<circle cx="1000.5" cy="125.3" r="5.6" fill="#e38a95"/>
<circle cx="966.9" cy="125.3" r="5.6" fill="#e6909a"/>
<circle cx="992.1" cy="125.3" r="5.6" fill="#e8959f"/>
<circle cx="975.3" cy="125.3" r="5.6" fill="#ec9aa3"/>
<circle cx="983.7" cy="125.3" r="5.6" fill="#ee9fa8"/>
<circle cx="962.7" cy="132.2" r="5.6" fill="#e8949d"/>
<circle cx="996.3" cy="132.2" r="5.6" fill="#eb9ba3"/>
<circle cx="971.1" cy="132.2" r="5.6" fill="#eea3aa"/>
<circle cx="987.9" cy="132.2" r="5.6" fill="#f1abb0"/>
<circle cx="979.5" cy="132.2" r="5.6" fill="#f4b2b7"/>
<circle cx="958.5" cy="139.2" r="5.6" fill="#e08691"/>
<circle cx="1000.5" cy="139.2" r="5.6" fill="#e38c96"/>
<circle cx="966.9" cy="139.2" r="5.6" fill="#e6929c"/>
<circle cx="992.1" cy="139.2" r="5.6" fill="#ea98a1"/>
<circle cx="975.3" cy="139.2" r="5.6" fill="#ed9fa6"/>
<circle cx="983.7" cy="139.2" r="5.6" fill="#f0a5ab"/>
<circle cx="962.7" cy="146.2" r="5.6" fill="#355491"/>
<circle cx="996.3" cy="146.2" r="5.6" fill="#3a5998"/>
<circle cx="971.1" cy="146.2" r="5.6" fill="#3f5fa0"/>
<circle cx="987.9" cy="146.2" r="5.6" fill="#4464a7"/>
<circle cx="979.5" cy="146.2" r="5.6" fill="#4a6aae"/>
<circle cx="958.5" cy="153.1" r="5.6" fill="#3b66aa"/>
<circle cx="1000.5" cy="153.1" r="5.6" fill="#416cb0"/>
<circle cx="966.9" cy="153.1" r="5.6" fill="#4773b7"/>
<circle cx="992.1" cy="153.1" r="5.6" fill="#4d79bd"/>
<circle cx="975.3" cy="153.1" r="5.6" fill="#5380c4"/>
<circle cx="983.7" cy="153.1" r="5.6" fill="#5987cb"/>
<circle cx="962.7" cy="160.1" r="5.6" fill="#328eca"/>
<circle cx="996.3" cy="160.1" r="5.6" fill="#3794ce"/>
<circle cx="971.1" cy="160.1" r="5.6" fill="#3c9ad3"/>
<circle cx="987.9" cy="160.1" r="5.6" fill="#41a0d7"/>
<circle cx="979.5" cy="160.1" r="5.6" fill="#46a7dc"/>
<circle cx="958.5" cy="167.0" r="5.6" fill="#36a3d9"/>
<circle cx="1000.5" cy="167.0" r="5.6" fill="#3ca8dc"/>
<circle cx="966.9" cy="167.0" r="5.6" fill="#42addf"/>
<circle cx="992.1" cy="167.0" r="5.6" fill="#47b2e1"/>
<circle cx="975.3" cy="167.0" r="5.6" fill="#4db8e5"/>
<circle cx="983.7" cy="167.0" r="5.6" fill="#52bce7"/>
<circle cx="960.5" cy="99" r="5.4" fill="#3db3e2"/>
<circle cx="962.5" cy="90.5" r="5.4" fill="#3db3e2"/>
<circle cx="967" cy="83.5" r="5.4" fill="#3db3e2"/>
<circle cx="973.5" cy="79.5" r="5.4" fill="#3db3e2"/>
<circle cx="978" cy="78.5" r="5.4" fill="#3db3e2"/>
<circle cx="989.5" cy="170.5" r="5.4" fill="#3db3e2"/>
<circle cx="985.5" cy="177.5" r="5.4" fill="#3db3e2"/>
<path d="M964,177.5 L953,195 Q948.5,203 948.5,212 Q948.5,221 953,228 L964,242 M1000.6,177.5 L1011.6,195 Q1016.1,203 1016.1,212 Q1016.1,221 1011.6,228 L1000.6,242" stroke="#f2a127" stroke-width="11.2" stroke-linecap="round" stroke-linejoin="round" fill="none"/>
<circle cx="970.5" cy="200.5" r="5" fill="#d98a10" stroke="#b8700c" stroke-width="0.8"/>
<circle cx="987.3" cy="212.3" r="5" fill="#d98a10" stroke="#b8700c" stroke-width="0.8"/>
<g transform="translate(981.8,0)"><path d="M-1,249.2 L-19,249.2 Q-25.5,249.5 -25.5,254 Q-25,259 -21,264 Q-17.5,268 -17.5,276 L-17.5,295 Q-17.5,299 -20.5,302 Q-22,304.5 -19,308 Q-17.5,311 -17.5,316 L-17.5,328 Q-17.5,334 -22.5,339 Q-26.5,345 -26.5,350.5 Q-26,356.5 -20,356.5 L-1,356.5 Z" fill="#3ba5d4"/><path d="M-1,249.2 L-19,249.2 Q-25.5,249.5 -25.5,254 Q-25,259 -21,264 Q-17.5,268 -17.5,276 L-17.5,295 Q-17.5,299 -20.5,302 Q-22,304.5 -19,308 Q-17.5,311 -17.5,316 L-17.5,328 Q-17.5,334 -22.5,339 Q-26.5,345 -26.5,350.5 Q-26,356.5 -20,356.5 L-1,356.5 Z" fill="#3ba5d4" transform="scale(-1,1)"/><rect x="-2.3" y="250" width="4.6" height="106.5" fill="#1b6ba2"/><path d="M-23,251.2 Q-12,247.5 -1,251.2 Q12,247.5 23,251.2" stroke="#2478b2" stroke-width="3" fill="none"/><path d="M-18,304.5 L18,304.5" stroke="#2f8cc4" stroke-width="1"/></g>
<path d="M763.2,303.3 L773,303.3 L768.4,315.8 L773.7,317 L767,330.3 L773,331 L757.9,352.6 L763.8,333 L759.2,332 L764.5,319.7 L757.9,319 Z" fill="#f0902a"/><path d="M763.2,303.3 L773,303.3 L768.4,315.8 L773.7,317 L767,330.3 L773,331 L757.9,352.6 L763.8,333 L759.2,332 L764.5,319.7 L757.9,319 Z" fill="#f0902a" transform="translate(21.7,0)"/>
<path d="M 704.2,396.1 C 706.2,393.4 710.8,392.1 711.4,396.1 C 712.1,400.0 707.5,405.3 706.8,409.9 C 706.4,413.2 708.2,417.1 711.4,418.4 M 714.7,414.5 C 714.7,403.9 716.7,386.8 723.3,383.6 C 729.2,380.9 731.2,389.5 727.9,396.1 C 725.3,401.3 723.3,407.9 722.0,415.8 C 721.3,420.4 717.4,425.0 720.7,426.3 C 725.3,427.6 727.9,421.1 725.3,415.1 C 723.3,410.5 726.6,401.3 733.2,400.7 C 738.4,400.0 739.7,407.9 734.5,411.8 C 730.5,414.5 725.9,414.5 723.3,414.5" stroke="#3f68b4" stroke-width="3.3" fill="none" stroke-linecap="round"/>
<path d="M149.5,212.6 L123.6,195.0" stroke="#1c1c1c" stroke-width="2.9" fill="none" stroke-linejoin="miter"/>
<path d="M115.7,189.7 L127.4,191.2 L121.4,200.0 Z" fill="#1c1c1c" stroke="#1c1c1c" stroke-width="0.8" stroke-linejoin="round"/>
<path d="M258.2,316.9 L214.9,316.9 L214.9,218.1" stroke="#1c1c1c" stroke-width="2.9" fill="none" stroke-linejoin="miter"/>
<path d="M214.9,208.6 L220.2,219.1 L209.6,219.1 Z" fill="#1c1c1c" stroke="#1c1c1c" stroke-width="0.8" stroke-linejoin="round"/>
<path d="M354.0,316.9 L397.5,316.9 L397.5,267.3" stroke="#1c1c1c" stroke-width="2.9" fill="none" stroke-linejoin="miter"/>
<path d="M397.5,257.8 L402.8,268.3 L392.2,268.3 Z" fill="#1c1c1c" stroke="#1c1c1c" stroke-width="0.8" stroke-linejoin="round"/>
<path d="M595.9,249.1 L478.3,214.9" stroke="#1c1c1c" stroke-width="2.9" fill="none" stroke-linejoin="miter"/>
<path d="M469.2,212.3 L480.8,210.1 L477.8,220.3 Z" fill="#1c1c1c" stroke="#1c1c1c" stroke-width="0.8" stroke-linejoin="round"/>
<path d="M682.8,229.3 L766.4,178.3" stroke="#1c1c1c" stroke-width="2.9" fill="none" stroke-linejoin="miter"/>
<path d="M774.5,173.3 L768.3,183.3 L762.8,174.2 Z" fill="#1c1c1c" stroke="#1c1c1c" stroke-width="0.8" stroke-linejoin="round"/>
<path d="M811.0,90.0 L811.0,73.9 L756.8,73.9" stroke="#1c1c1c" stroke-width="2.9" fill="none" stroke-linejoin="miter"/>
<path d="M747.3,73.9 L757.8,68.6 L757.8,79.2 Z" fill="#1c1c1c" stroke="#1c1c1c" stroke-width="0.8" stroke-linejoin="round"/>
<path d="M355.4,123.4 L331.9,123.4" stroke="#222" stroke-width="1.6" fill="none" stroke-linejoin="miter"/>
<path d="M326.9,123.4 L332.9,119.9 L332.9,126.9 Z" fill="#222" stroke="#222" stroke-width="0.8" stroke-linejoin="round"/>
<path d="M700.3,329.0 L722.6,329.0 L734.7,329.0" stroke="#1c1c1c" stroke-width="2.4" fill="none" stroke-linejoin="miter"/>
<path d="M743.7,329.0 L733.7,334.5 L733.7,323.5 Z" fill="#1c1c1c" stroke="#1c1c1c" stroke-width="0.8" stroke-linejoin="round"/>
<path d="M722.6,329.0 L722.6,362.8" stroke="#1c1c1c" stroke-width="2.4" fill="none" stroke-linejoin="miter"/>
<path d="M722.6,371.8 L717.1,361.8 L728.1,361.8 Z" fill="#1c1c1c" stroke="#1c1c1c" stroke-width="0.8" stroke-linejoin="round"/>
<path d="M513.7,200.7 L536.8,223.8 M536,200.7 L513,223" stroke="#b54a4a" stroke-width="2.7"/>
<text x="9.7" y="33.6" font-size="20.2" font-weight="bold" fill="#161616" textLength="46.6" lengthAdjust="spacingAndGlyphs" >OMM</text>
<text x="145.4" y="120.3" font-size="20.2" font-weight="bold" fill="#161616" textLength="53.9" lengthAdjust="spacingAndGlyphs" >MAVS</text>
<text x="2.2" y="236.9" font-size="19" font-weight="bold" fill="#161616" textLength="123" lengthAdjust="spacingAndGlyphs" >Inflammasome</text>
<text x="292.2" y="129.3" font-size="19" font-weight="bold" fill="#161616" textLength="27.5" lengthAdjust="spacingAndGlyphs" >IFN</text>
<text x="379.8" y="112.9" font-size="14.8" font-weight="bold" fill="#2a1616" textLength="35.8" lengthAdjust="spacingAndGlyphs" >TBK1</text>
<text x="431.8" y="127.4" font-size="17.5" font-weight="bold" fill="#2a1628" textLength="35.6" lengthAdjust="spacingAndGlyphs" >IRF3</text>
<text x="357.2" y="242.2" font-size="15.2" font-weight="normal" fill="#333" textLength="86.1" lengthAdjust="spacingAndGlyphs" >ERGIC-Golgi</text>
<text x="600.9" y="78.1" font-size="19.5" font-weight="bold" fill="#161616" textLength="134" lengthAdjust="spacingAndGlyphs" >Cell ferroptosis</text>
<text x="816.7" y="65.2" font-size="18.5" font-weight="bold" fill="#161616" textLength="76" lengthAdjust="spacingAndGlyphs" >MFN 1/2</text>
<text x="957.9" y="66.9" font-size="19.5" font-weight="bold" fill="#161616" textLength="50" lengthAdjust="spacingAndGlyphs" >VDAC</text>
<text x="737" y="292.8" font-size="18.5" font-weight="bold" fill="#161616" textLength="82.2" lengthAdjust="spacingAndGlyphs" >ER stress</text>
<text x="825.8" y="371.9" font-size="20" font-weight="bold" fill="#161616" textLength="57" lengthAdjust="spacingAndGlyphs" >MFN 2</text>
<text x="962" y="378.1" font-size="19.5" font-weight="bold" fill="#161616" textLength="41.3" lengthAdjust="spacingAndGlyphs" >IP3R</text>
<text x="754.2" y="410.6" font-size="19.5" font-weight="bold" fill="#161616" textLength="36.8" lengthAdjust="spacingAndGlyphs" >UPR</text>
<text x="8.3" y="420.3" font-size="19.5" font-weight="bold" fill="#161616" textLength="82" lengthAdjust="spacingAndGlyphs" >ER lumen</text>
<text x="951.4" y="452.6" font-size="13.6" font-weight="bold" fill="#111" textLength="126" lengthAdjust="spacingAndGlyphs" stroke="#111" stroke-width="0.45">Trends in Immunology</text>
<text x="561.6" y="165.2" font-size="19.5" font-weight="bold" fill="#161616" textLength="21.4" lengthAdjust="spacingAndGlyphs">Ca</text><text x="584.7" y="159" font-size="12" font-weight="bold" fill="#161616" textLength="11.6" lengthAdjust="spacingAndGlyphs">2+</text><text x="603.6" y="165.2" font-size="19.5" font-weight="bold" fill="#161616" textLength="115" lengthAdjust="spacingAndGlyphs">microdomain</text>
<text x="1010.5" y="414" font-size="17.5" fill="#333">Ca<tspan font-size="11.5" dy="-6.5">2+</tspan></text>
<text transform="translate(177.5,232.5) rotate(-58)" text-anchor="middle" font-size="19.5" font-weight="bold" fill="#161616" y="6">NLRP3</text>
<text transform="translate(907,208.8) rotate(-90)" x="-26" y="26" font-size="18.5" font-weight="bold" fill="#161616" textLength="52" lengthAdjust="spacingAndGlyphs">Grp75</text>
</svg></body></html>
